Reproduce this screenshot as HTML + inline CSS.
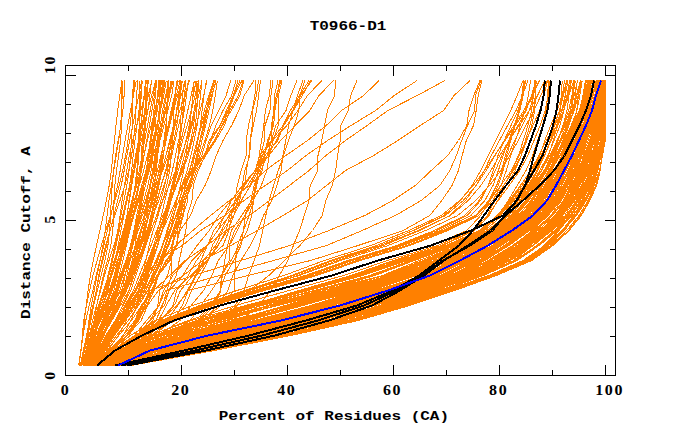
<!DOCTYPE html>
<html><head><meta charset="utf-8"><style>
html,body{margin:0;padding:0;background:#fff;}
body{width:680px;height:440px;overflow:hidden;}
svg{display:block;}
text{font-family:"Liberation Mono",monospace;font-weight:bold;fill:#000;white-space:pre;}
text.d{font-family:"Liberation Serif",serif;letter-spacing:1.6px;}
</style></head><body>
<svg width="680" height="440" viewBox="0 0 680 440">
<g fill="none" stroke-linejoin="round" shape-rendering="crispEdges">
<polyline points="118.9,365.5 152.8,350.5 209.3,335.5 280.1,320.5 337.8,305.5 384.4,290.5 425.3,275.5 454.4,260.5 482.5,245.5 505.9,230.5 524.8,215.5 537.4,200.5 546.4,185.5 555.0,170.5 562.6,155.5 568.3,140.5 573.2,125.5 576.8,110.5 578.4,95.5 580.9,80.5" stroke="#ff8000" stroke-width="1"/>
<polyline points="122.9,365.5 176.5,350.5 243.7,335.5 315.0,320.5 369.6,305.5 415.7,290.5 457.6,275.5 490.0,260.5 515.0,245.5 535.0,230.5 550.8,215.5 561.4,200.5 569.7,185.5 577.4,170.5 585.3,155.5 592.4,140.5 598.0,125.5 600.9,110.5 602.2,95.5 604.1,80.5" stroke="#ff8000" stroke-width="1"/>
<polyline points="118.0,365.5 149.9,350.5 207.2,335.5 278.7,320.5 336.3,305.5 383.4,290.5 425.1,275.5 455.2,260.5 484.1,245.5 508.7,230.5 529.5,215.5 543.3,200.5 552.3,185.5 560.3,170.5 567.9,155.5 574.3,140.5 580.6,125.5 586.0,110.5 589.6,95.5 594.0,80.5" stroke="#ff8000" stroke-width="1"/>
<polyline points="111.8,365.5 139.0,350.5 186.5,335.5 245.4,320.5 299.6,305.5 349.4,290.5 395.9,275.5 431.0,260.5 467.5,245.5 495.4,230.5 514.5,215.5 527.4,200.5 537.4,185.5 546.7,170.5 554.6,155.5 560.6,140.5 566.2,125.5 570.6,110.5 572.9,95.5 575.4,80.5" stroke="#ff8000" stroke-width="1"/>
<polyline points="97.0,365.5 118.9,350.5 154.5,335.5 202.7,320.5 262.0,305.5 324.1,290.5 382.8,275.5 427.1,260.5 469.2,245.5 499.7,230.5 522.8,215.5 540.5,200.5 554.2,185.5 565.1,170.5 574.9,155.5 582.7,140.5 589.3,125.5 593.9,110.5 597.0,95.5 600.2,80.5" stroke="#ff8000" stroke-width="1"/>
<polyline points="98.6,365.5 120.2,350.5 157.5,335.5 208.6,320.5 269.3,305.5 331.6,290.5 390.2,275.5 434.6,260.5 476.6,245.5 507.4,230.5 530.9,215.5 548.0,200.5 559.3,185.5 568.3,170.5 576.3,155.5 582.9,140.5 588.9,125.5 593.3,110.5 596.4,95.5 599.7,80.5" stroke="#ff8000" stroke-width="1"/>
<polyline points="123.4,365.5 176.7,350.5 241.2,335.5 310.8,320.5 365.8,305.5 411.9,290.5 452.7,275.5 483.0,260.5 507.3,245.5 527.8,230.5 545.3,215.5 557.1,200.5 565.0,185.5 571.4,170.5 577.7,155.5 583.3,140.5 589.0,125.5 593.9,110.5 597.3,95.5 601.7,80.5" stroke="#ff8000" stroke-width="1"/>
<polyline points="124.8,365.5 183.8,350.5 250.5,335.5 319.7,320.5 374.6,305.5 421.0,290.5 462.4,275.5 493.7,260.5 517.1,245.5 536.3,230.5 552.4,215.5 563.6,200.5 571.7,185.5 578.1,170.5 584.1,155.5 589.5,140.5 594.7,125.5 598.4,110.5 600.7,95.5 603.3,80.5" stroke="#ff8000" stroke-width="1"/>
<polyline points="121.0,365.5 165.2,350.5 227.6,335.5 299.7,320.5 356.8,305.5 403.7,290.5 444.8,275.5 474.5,260.5 499.8,245.5 521.2,230.5 539.8,215.5 552.5,200.5 561.1,185.5 568.6,170.5 575.9,155.5 582.4,140.5 588.8,125.5 594.0,110.5 597.5,95.5 601.9,80.5" stroke="#ff8000" stroke-width="1"/>
<polyline points="100.8,365.5 123.0,350.5 158.5,335.5 202.4,320.5 253.5,305.5 308.5,290.5 362.7,275.5 405.0,260.5 450.5,245.5 482.0,230.5 499.6,215.5 511.6,200.5 522.3,185.5 532.7,170.5 541.5,155.5 548.9,140.5 556.6,125.5 563.6,110.5 568.7,95.5 574.0,80.5" stroke="#ff8000" stroke-width="1"/>
<polyline points="118.5,365.5 152.7,350.5 210.2,335.5 281.6,320.5 339.7,305.5 387.4,290.5 429.0,275.5 458.2,260.5 484.9,245.5 507.8,230.5 528.0,215.5 542.0,200.5 552.1,185.5 561.8,170.5 571.5,155.5 579.8,140.5 587.2,125.5 592.9,110.5 596.1,95.5 600.2,80.5" stroke="#ff8000" stroke-width="1"/>
<polyline points="125.2,365.5 185.6,350.5 251.9,335.5 319.3,320.5 372.3,305.5 417.6,290.5 458.8,275.5 489.8,260.5 513.6,245.5 532.6,230.5 547.9,215.5 557.7,200.5 564.2,185.5 570.3,170.5 577.1,155.5 583.7,140.5 590.1,125.5 594.9,110.5 597.6,95.5 601.1,80.5" stroke="#ff8000" stroke-width="1"/>
<polyline points="108.9,365.5 136.8,350.5 187.6,335.5 255.5,320.5 319.5,305.5 376.2,290.5 425.9,275.5 461.1,260.5 491.9,245.5 517.6,230.5 539.6,215.5 555.0,200.5 566.5,185.5 576.5,170.5 585.4,155.5 592.9,140.5 599.0,125.5 602.3,110.5 603.7,95.5 604.5,80.5" stroke="#ff8000" stroke-width="1"/>
<polyline points="123.0,365.5 176.9,350.5 243.5,335.5 314.1,320.5 369.9,305.5 417.4,290.5 460.7,275.5 494.5,260.5 520.2,245.5 540.9,230.5 557.4,215.5 568.3,200.5 576.1,185.5 582.1,170.5 587.6,155.5 593.1,140.5 598.1,125.5 601.4,110.5 603.2,95.5 604.5,80.5" stroke="#ff8000" stroke-width="1"/>
<polyline points="123.2,365.5 176.3,350.5 241.4,335.5 311.9,320.5 367.2,305.5 413.2,290.5 454.1,275.5 484.5,260.5 509.0,245.5 529.6,230.5 547.3,215.5 559.2,200.5 567.2,185.5 573.4,170.5 579.1,155.5 584.0,140.5 588.9,125.5 592.8,110.5 595.5,95.5 599.4,80.5" stroke="#ff8000" stroke-width="1"/>
<polyline points="125.5,365.5 189.1,350.5 258.0,335.5 326.5,320.5 380.4,305.5 426.3,290.5 467.8,275.5 500.5,260.5 524.3,245.5 544.5,230.5 561.8,215.5 574.8,200.5 584.7,185.5 591.2,170.5 595.3,155.5 597.9,140.5 599.5,125.5 599.8,110.5 599.9,95.5 600.9,80.5" stroke="#ff8000" stroke-width="1"/>
<polyline points="127.1,365.5 193.5,350.5 260.8,335.5 327.4,320.5 380.0,305.5 424.6,290.5 464.0,275.5 493.0,260.5 514.2,245.5 531.9,230.5 547.3,215.5 558.1,200.5 565.7,185.5 572.1,170.5 578.2,155.5 583.5,140.5 588.5,125.5 592.6,110.5 595.3,95.5 598.5,80.5" stroke="#ff8000" stroke-width="1"/>
<polyline points="107.5,365.5 132.4,350.5 178.0,335.5 238.5,320.5 298.3,305.5 353.7,290.5 404.0,275.5 440.9,260.5 476.9,245.5 504.9,230.5 526.9,215.5 542.1,200.5 552.4,185.5 560.7,170.5 568.6,155.5 575.4,140.5 582.9,125.5 590.4,110.5 596.5,95.5 603.1,80.5" stroke="#ff8000" stroke-width="1"/>
<polyline points="116.1,365.5 146.3,350.5 200.7,335.5 269.3,320.5 327.4,305.5 377.0,290.5 421.4,275.5 453.6,260.5 484.4,245.5 508.8,230.5 527.7,215.5 539.7,200.5 547.9,185.5 555.7,170.5 563.4,155.5 570.0,140.5 576.5,125.5 581.6,110.5 584.7,95.5 588.6,80.5" stroke="#ff8000" stroke-width="1"/>
<polyline points="128.8,365.5 206.3,350.5 281.8,335.5 351.2,320.5 404.7,305.5 451.5,290.5 493.9,275.5 527.7,260.5 547.5,245.5 562.4,230.5 573.6,215.5 582.4,200.5 590.7,185.5 596.5,170.5 600.7,155.5 604.4,140.5 605.5,125.5 605.5,110.5 605.5,95.5 605.5,80.5" stroke="#ff8000" stroke-width="1"/>
<polyline points="111.9,365.5 140.1,350.5 189.9,335.5 253.8,320.5 312.6,305.5 365.0,290.5 412.1,275.5 446.2,260.5 478.2,245.5 503.6,230.5 524.5,215.5 539.5,200.5 550.9,185.5 561.7,170.5 572.1,155.5 580.7,140.5 588.1,125.5 593.7,110.5 597.3,95.5 602.1,80.5" stroke="#ff8000" stroke-width="1"/>
<polyline points="127.4,365.5 197.8,350.5 268.0,335.5 334.7,320.5 386.4,305.5 431.6,290.5 473.0,275.5 505.4,260.5 527.6,245.5 545.1,230.5 559.0,215.5 568.8,200.5 576.5,185.5 582.8,170.5 588.4,155.5 593.2,140.5 596.9,125.5 599.0,110.5 600.0,95.5 602.3,80.5" stroke="#ff8000" stroke-width="1"/>
<polyline points="110.5,365.5 138.8,350.5 187.7,335.5 248.3,320.5 302.9,305.5 352.8,290.5 399.2,275.5 434.1,260.5 469.8,245.5 497.1,230.5 516.2,215.5 528.8,200.5 538.0,185.5 546.8,170.5 555.5,155.5 563.5,140.5 571.8,125.5 579.1,110.5 584.0,95.5 589.2,80.5" stroke="#ff8000" stroke-width="1"/>
<polyline points="122.7,365.5 173.2,350.5 237.5,335.5 308.7,320.5 363.2,305.5 407.3,290.5 445.6,275.5 473.3,260.5 497.4,245.5 518.6,230.5 537.3,215.5 549.6,200.5 556.8,185.5 562.5,170.5 568.6,155.5 574.5,140.5 581.0,125.5 587.4,110.5 592.0,95.5 596.9,80.5" stroke="#ff8000" stroke-width="1"/>
<polyline points="125.0,365.5 186.8,350.5 256.2,335.5 326.6,320.5 381.9,305.5 429.2,290.5 471.9,275.5 505.2,260.5 528.3,245.5 546.5,230.5 560.9,215.5 570.7,200.5 578.4,185.5 584.2,170.5 589.3,155.5 594.4,140.5 599.0,125.5 602.0,110.5 603.9,95.5 605.5,80.5" stroke="#ff8000" stroke-width="1"/>
<polyline points="102.7,365.5 126.6,350.5 169.4,335.5 228.2,320.5 292.2,305.5 353.6,290.5 409.4,275.5 450.5,260.5 486.9,245.5 515.3,230.5 539.4,215.5 555.9,200.5 567.8,185.5 578.1,170.5 587.3,155.5 595.1,140.5 601.4,125.5 604.9,110.5 605.5,95.5 605.5,80.5" stroke="#ff8000" stroke-width="1"/>
<polyline points="130.5,365.5 214.2,350.5 291.0,335.5 358.1,320.5 409.3,305.5 454.6,290.5 496.5,275.5 531.4,260.5 552.2,245.5 568.5,230.5 580.5,215.5 589.2,200.5 596.2,185.5 599.9,170.5 601.9,155.5 604.1,140.5 605.5,125.5 605.5,110.5 605.5,95.5 605.5,80.5" stroke="#ff8000" stroke-width="1"/>
<polyline points="116.9,365.5 147.5,350.5 203.4,335.5 274.0,320.5 332.5,305.5 381.2,290.5 424.3,275.5 455.3,260.5 484.9,245.5 508.8,230.5 527.8,215.5 539.8,200.5 547.6,185.5 555.0,170.5 562.6,155.5 569.8,140.5 577.4,125.5 584.3,110.5 589.2,95.5 594.5,80.5" stroke="#ff8000" stroke-width="1"/>
<polyline points="129.4,365.5 208.8,350.5 283.7,335.5 351.6,320.5 403.9,305.5 449.9,290.5 491.5,275.5 524.5,260.5 544.1,245.5 559.1,230.5 570.9,215.5 580.0,200.5 588.2,185.5 593.7,170.5 597.5,155.5 600.7,140.5 602.7,125.5 602.9,110.5 603.2,95.5 604.1,80.5" stroke="#ff8000" stroke-width="1"/>
<polyline points="113.2,365.5 141.5,350.5 192.8,335.5 258.1,320.5 316.1,305.5 367.2,290.5 413.5,275.5 447.5,260.5 480.8,245.5 507.0,230.5 527.2,215.5 540.9,200.5 550.6,185.5 559.5,170.5 568.0,155.5 575.3,140.5 582.5,125.5 588.4,110.5 592.1,95.5 596.3,80.5" stroke="#ff8000" stroke-width="1"/>
<polyline points="110.0,365.5 136.5,350.5 184.1,335.5 244.9,320.5 302.1,305.5 354.8,290.5 403.3,275.5 438.9,260.5 474.2,245.5 500.5,230.5 518.8,215.5 530.9,200.5 539.9,185.5 548.7,170.5 557.1,155.5 564.8,140.5 572.8,125.5 580.2,110.5 585.8,95.5 592.3,80.5" stroke="#ff8000" stroke-width="1"/>
<polyline points="112.5,365.5 139.1,350.5 186.2,335.5 243.7,320.5 295.9,305.5 344.0,290.5 390.2,275.5 426.0,260.5 464.4,245.5 493.2,230.5 510.9,215.5 522.0,200.5 530.9,185.5 539.9,170.5 547.8,155.5 554.2,140.5 559.9,125.5 563.9,110.5 565.2,95.5 566.2,80.5" stroke="#ff8000" stroke-width="1"/>
<polyline points="122.6,365.5 171.8,350.5 233.5,335.5 302.7,320.5 357.8,305.5 403.2,290.5 442.8,275.5 470.7,260.5 494.6,245.5 515.2,230.5 533.8,215.5 546.5,200.5 554.7,185.5 561.3,170.5 567.4,155.5 572.2,140.5 576.8,125.5 580.8,110.5 583.2,95.5 586.5,80.5" stroke="#ff8000" stroke-width="1"/>
<polyline points="128.2,365.5 203.4,350.5 277.8,335.5 346.9,320.5 400.3,305.5 446.9,290.5 489.6,275.5 524.1,260.5 545.6,245.5 562.2,230.5 575.0,215.5 584.5,200.5 592.6,185.5 597.7,170.5 600.9,155.5 603.8,140.5 605.5,125.5 605.5,110.5 605.5,95.5 605.5,80.5" stroke="#ff8000" stroke-width="1"/>
<polyline points="119.5,365.5 157.3,350.5 217.4,335.5 289.9,320.5 348.8,305.5 397.3,290.5 440.0,275.5 471.1,260.5 498.2,245.5 520.9,230.5 540.3,215.5 553.0,200.5 561.1,185.5 568.0,170.5 574.8,155.5 581.0,140.5 587.2,125.5 592.6,110.5 596.6,95.5 601.5,80.5" stroke="#ff8000" stroke-width="1"/>
<polyline points="123.1,365.5 177.0,350.5 245.0,335.5 317.6,320.5 375.4,305.5 424.5,290.5 468.6,275.5 503.4,260.5 528.9,245.5 549.6,230.5 566.3,215.5 578.0,200.5 586.7,185.5 592.3,170.5 595.8,155.5 598.6,140.5 600.7,125.5 601.4,110.5 602.0,95.5 602.8,80.5" stroke="#ff8000" stroke-width="1"/>
<polyline points="111.7,365.5 139.4,350.5 187.3,335.5 246.0,320.5 298.9,305.5 348.0,290.5 394.5,275.5 429.8,260.5 467.1,245.5 494.7,230.5 511.7,215.5 522.1,200.5 530.0,185.5 537.7,170.5 544.4,155.5 550.3,140.5 556.5,125.5 561.8,110.5 565.1,95.5 568.0,80.5" stroke="#ff8000" stroke-width="1"/>
<polyline points="127.2,365.5 197.1,350.5 269.7,335.5 339.8,320.5 393.9,305.5 440.3,290.5 482.0,275.5 514.9,260.5 536.8,245.5 554.4,230.5 568.5,215.5 578.7,200.5 586.6,185.5 591.4,170.5 594.4,155.5 596.9,140.5 599.1,125.5 600.2,110.5 601.4,95.5 603.2,80.5" stroke="#ff8000" stroke-width="1"/>
<polyline points="126.6,365.5 194.7,350.5 266.8,335.5 336.9,320.5 391.6,305.5 438.9,290.5 481.9,275.5 516.2,260.5 538.8,245.5 556.6,230.5 570.4,215.5 580.1,200.5 588.0,185.5 593.0,170.5 596.7,155.5 600.3,140.5 603.2,125.5 604.6,110.5 605.5,95.5 605.5,80.5" stroke="#ff8000" stroke-width="1"/>
<polyline points="110.2,365.5 136.9,350.5 183.3,335.5 240.9,320.5 295.1,305.5 345.6,290.5 393.0,275.5 428.7,260.5 465.9,245.5 494.1,230.5 513.1,215.5 526.0,200.5 535.9,185.5 545.1,170.5 553.1,155.5 559.8,140.5 566.6,125.5 572.5,110.5 576.4,95.5 580.4,80.5" stroke="#ff8000" stroke-width="1"/>
<polyline points="127.2,365.5 196.1,350.5 266.2,335.5 334.0,320.5 387.8,305.5 434.5,290.5 476.7,275.5 509.9,260.5 532.4,245.5 550.3,230.5 564.5,215.5 574.4,200.5 581.8,185.5 587.1,170.5 591.4,155.5 595.5,140.5 599.4,125.5 601.9,110.5 603.5,95.5 605.2,80.5" stroke="#ff8000" stroke-width="1"/>
<polyline points="119.6,365.5 158.1,350.5 217.3,335.5 288.7,320.5 345.8,305.5 392.7,290.5 433.7,275.5 462.7,260.5 489.2,245.5 511.7,230.5 531.1,215.5 543.3,200.5 551.0,185.5 558.0,170.5 565.3,155.5 571.8,140.5 578.3,125.5 583.8,110.5 587.0,95.5 590.7,80.5" stroke="#ff8000" stroke-width="1"/>
<polyline points="125.1,365.5 184.6,350.5 250.9,335.5 319.1,320.5 374.0,305.5 420.8,290.5 462.8,275.5 495.1,260.5 519.4,245.5 539.8,230.5 557.0,215.5 569.0,200.5 577.4,185.5 583.2,170.5 587.8,155.5 591.6,140.5 595.1,125.5 597.6,110.5 599.1,95.5 601.4,80.5" stroke="#ff8000" stroke-width="1"/>
<polyline points="112.7,365.5 142.0,350.5 191.1,335.5 249.5,320.5 299.8,305.5 345.7,290.5 389.5,275.5 423.2,260.5 460.3,245.5 489.3,230.5 508.6,215.5 521.7,200.5 532.2,185.5 541.6,170.5 548.6,155.5 553.3,140.5 557.4,125.5 560.3,110.5 561.2,95.5 562.3,80.5" stroke="#ff8000" stroke-width="1"/>
<polyline points="126.1,365.5 190.1,350.5 258.5,335.5 326.7,320.5 380.7,305.5 426.9,290.5 468.5,275.5 500.6,260.5 523.7,245.5 542.6,230.5 558.2,215.5 569.1,200.5 576.9,185.5 582.6,170.5 587.6,155.5 592.1,140.5 596.4,125.5 599.6,110.5 601.6,95.5 604.3,80.5" stroke="#ff8000" stroke-width="1"/>
<polyline points="109.9,365.5 136.6,350.5 184.2,335.5 244.7,320.5 301.2,305.5 353.1,290.5 400.9,275.5 436.4,260.5 472.2,245.5 499.8,230.5 520.0,215.5 534.2,200.5 544.9,185.5 554.4,170.5 562.7,155.5 569.2,140.5 575.5,125.5 580.9,110.5 584.8,95.5 589.8,80.5" stroke="#ff8000" stroke-width="1"/>
<polyline points="126.5,365.5 192.8,350.5 262.0,335.5 329.7,320.5 382.9,305.5 428.8,290.5 470.5,275.5 503.3,260.5 526.7,245.5 545.9,230.5 561.8,215.5 573.1,200.5 581.5,185.5 587.3,170.5 591.8,155.5 595.6,140.5 598.9,125.5 600.8,110.5 601.8,95.5 603.4,80.5" stroke="#ff8000" stroke-width="1"/>
<polyline points="97.1,365.5 115.8,350.5 143.3,335.5 175.7,320.5 221.5,305.5 276.5,290.5 333.6,275.5 379.4,260.5 432.3,245.5 466.8,230.5 480.7,215.5 489.9,200.5 500.6,185.5 511.3,170.5 518.5,155.5 523.3,140.5 527.9,125.5 531.6,110.5 533.5,95.5 534.6,80.5" stroke="#ff8000" stroke-width="1"/>
<polyline points="119.6,365.5 159.9,350.5 223.1,335.5 297.3,320.5 355.7,305.5 403.8,290.5 446.4,275.5 478.2,260.5 505.1,245.5 527.3,230.5 545.6,215.5 557.5,200.5 565.4,185.5 571.9,170.5 578.3,155.5 584.7,140.5 591.5,125.5 597.3,110.5 601.7,95.5 605.5,80.5" stroke="#ff8000" stroke-width="1"/>
<polyline points="124.6,365.5 182.9,350.5 249.9,335.5 319.5,320.5 373.4,305.5 418.5,290.5 458.9,275.5 489.9,260.5 514.3,245.5 535.0,230.5 552.2,215.5 563.5,200.5 570.7,185.5 576.0,170.5 581.1,155.5 586.3,140.5 592.0,125.5 596.8,110.5 599.8,95.5 603.0,80.5" stroke="#ff8000" stroke-width="1"/>
<polyline points="100.9,365.5 122.2,350.5 157.3,335.5 200.6,320.5 250.9,305.5 304.8,290.5 358.5,275.5 400.9,260.5 447.8,245.5 480.7,230.5 498.7,215.5 510.6,200.5 520.9,185.5 530.7,170.5 538.9,155.5 546.4,140.5 554.6,125.5 562.2,110.5 567.4,95.5 571.8,80.5" stroke="#ff8000" stroke-width="1"/>
<polyline points="121.3,365.5 165.4,350.5 227.3,335.5 299.5,320.5 356.6,305.5 403.2,290.5 443.5,275.5 472.2,260.5 497.0,245.5 518.3,230.5 536.8,215.5 549.0,200.5 556.6,185.5 563.2,170.5 570.2,155.5 577.0,140.5 584.5,125.5 591.1,110.5 595.8,95.5 600.8,80.5" stroke="#ff8000" stroke-width="1"/>
<polyline points="126.5,365.5 193.8,350.5 265.3,335.5 335.8,320.5 391.3,305.5 439.1,290.5 482.1,275.5 515.7,260.5 537.8,245.5 554.9,230.5 568.0,215.5 577.1,200.5 584.4,185.5 589.4,170.5 593.3,155.5 597.1,140.5 600.2,125.5 601.6,110.5 602.2,95.5 602.6,80.5" stroke="#ff8000" stroke-width="1"/>
<polyline points="122.3,365.5 170.2,350.5 231.5,335.5 300.3,320.5 356.9,305.5 404.4,290.5 446.1,275.5 476.1,260.5 501.0,245.5 522.2,230.5 541.1,215.5 554.4,200.5 563.3,185.5 570.4,170.5 576.5,155.5 581.2,140.5 586.1,125.5 591.0,110.5 594.7,95.5 598.9,80.5" stroke="#ff8000" stroke-width="1"/>
<polyline points="114.0,365.5 142.8,350.5 193.6,335.5 256.9,320.5 312.3,305.5 361.3,290.5 406.4,275.5 440.1,260.5 474.3,245.5 501.1,230.5 520.3,215.5 532.9,200.5 541.8,185.5 549.9,170.5 557.0,155.5 562.8,140.5 568.6,125.5 573.6,110.5 576.7,95.5 580.3,80.5" stroke="#ff8000" stroke-width="1"/>
<polyline points="126.1,365.5 191.6,350.5 261.2,335.5 330.2,320.5 384.0,305.5 429.9,290.5 470.9,275.5 502.4,260.5 524.7,245.5 543.5,230.5 559.9,215.5 572.2,200.5 581.6,185.5 587.8,170.5 592.2,155.5 595.6,140.5 598.7,125.5 600.8,110.5 602.3,95.5 603.9,80.5" stroke="#ff8000" stroke-width="1"/>
<polyline points="100.8,365.5 120.0,350.5 150.9,335.5 188.1,320.5 235.5,305.5 289.0,290.5 343.7,275.5 387.6,260.5 437.6,245.5 471.6,230.5 487.7,215.5 498.3,200.5 509.1,185.5 519.8,170.5 527.8,155.5 534.0,140.5 540.1,125.5 545.2,110.5 548.2,95.5 550.1,80.5" stroke="#ff8000" stroke-width="1"/>
<polyline points="118.1,365.5 150.7,350.5 209.4,335.5 283.1,320.5 342.3,305.5 390.4,290.5 432.0,275.5 461.4,260.5 488.4,245.5 511.5,230.5 531.9,215.5 546.0,200.5 555.8,185.5 564.8,170.5 573.8,155.5 581.4,140.5 588.5,125.5 594.1,110.5 597.5,95.5 601.8,80.5" stroke="#ff8000" stroke-width="1"/>
<polyline points="116.9,365.5 148.5,350.5 205.8,335.5 278.2,320.5 337.8,305.5 386.8,290.5 429.7,275.5 460.3,260.5 488.9,245.5 513.4,230.5 534.7,215.5 548.9,200.5 558.3,185.5 566.3,170.5 574.2,155.5 581.0,140.5 587.6,125.5 593.1,110.5 596.7,95.5 601.2,80.5" stroke="#ff8000" stroke-width="1"/>
<polyline points="121.5,365.5 168.1,350.5 231.5,335.5 303.0,320.5 359.9,305.5 407.3,290.5 449.4,275.5 480.8,260.5 506.7,245.5 528.3,230.5 546.6,215.5 558.9,200.5 567.4,185.5 574.3,170.5 580.7,155.5 586.4,140.5 591.8,125.5 596.0,110.5 598.7,95.5 602.2,80.5" stroke="#ff8000" stroke-width="1"/>
<polyline points="103.0,365.5 127.2,350.5 167.9,335.5 220.4,320.5 276.5,305.5 332.0,290.5 384.1,275.5 422.9,260.5 462.1,245.5 491.0,230.5 511.8,215.5 527.6,200.5 540.8,185.5 553.1,170.5 564.5,155.5 574.2,140.5 583.4,125.5 591.6,110.5 597.3,95.5 603.1,80.5" stroke="#ff8000" stroke-width="1"/>
<polyline points="118.2,365.5 151.1,350.5 209.2,335.5 281.3,320.5 338.2,305.5 384.4,290.5 425.2,275.5 454.5,260.5 482.9,245.5 507.0,230.5 527.0,215.5 540.2,200.5 549.0,185.5 556.9,170.5 564.5,155.5 571.0,140.5 577.4,125.5 582.9,110.5 586.5,95.5 590.8,80.5" stroke="#ff8000" stroke-width="1"/>
<polyline points="120.7,365.5 164.3,350.5 227.5,335.5 300.6,320.5 358.2,305.5 405.2,290.5 446.1,275.5 476.0,260.5 501.3,245.5 523.2,230.5 542.7,215.5 556.8,200.5 566.9,185.5 574.9,170.5 581.6,155.5 586.9,140.5 591.8,125.5 595.8,110.5 598.9,95.5 603.3,80.5" stroke="#ff8000" stroke-width="1"/>
<polyline points="99.8,365.5 122.5,350.5 161.9,335.5 215.7,320.5 277.5,305.5 339.4,290.5 397.0,275.5 440.1,260.5 479.8,245.5 509.2,230.5 532.9,215.5 549.1,200.5 559.9,185.5 569.1,170.5 577.8,155.5 585.6,140.5 593.0,125.5 598.5,110.5 602.5,95.5 605.5,80.5" stroke="#ff8000" stroke-width="1"/>
<polyline points="118.4,365.5 154.1,350.5 215.4,335.5 290.3,320.5 349.4,305.5 397.6,290.5 439.8,275.5 470.6,260.5 497.7,245.5 520.5,230.5 539.9,215.5 552.7,200.5 561.2,185.5 568.4,170.5 575.2,155.5 581.2,140.5 587.2,125.5 592.0,110.5 595.3,95.5 599.4,80.5" stroke="#ff8000" stroke-width="1"/>
<polyline points="130.0,365.5 212.0,350.5 288.1,335.5 355.5,320.5 407.4,305.5 453.2,290.5 495.4,275.5 530.2,260.5 550.8,245.5 566.8,230.5 579.0,215.5 588.0,200.5 595.6,185.5 600.0,170.5 602.4,155.5 604.7,140.5 605.5,125.5 605.5,110.5 605.5,95.5 605.5,80.5" stroke="#ff8000" stroke-width="1"/>
<polyline points="119.0,365.5 155.5,350.5 215.5,335.5 288.2,320.5 346.7,305.5 394.6,290.5 436.8,275.5 467.7,260.5 495.1,245.5 518.4,230.5 538.6,215.5 552.3,200.5 561.6,185.5 569.3,170.5 576.8,155.5 583.3,140.5 589.8,125.5 595.1,110.5 598.7,95.5 602.9,80.5" stroke="#ff8000" stroke-width="1"/>
<polyline points="112.7,365.5 141.1,350.5 191.2,335.5 254.5,320.5 311.6,305.5 362.8,290.5 409.8,275.5 444.8,260.5 478.9,245.5 505.6,230.5 525.6,215.5 538.6,200.5 547.5,185.5 555.6,170.5 563.5,155.5 570.8,140.5 578.4,125.5 585.2,110.5 590.0,95.5 595.4,80.5" stroke="#ff8000" stroke-width="1"/>
<polyline points="117.0,365.5 146.8,350.5 200.0,335.5 265.7,320.5 321.1,305.5 368.5,290.5 411.9,275.5 444.3,260.5 477.2,245.5 503.8,230.5 523.4,215.5 535.9,200.5 544.5,185.5 551.9,170.5 558.2,155.5 562.8,140.5 567.2,125.5 570.6,110.5 572.0,95.5 573.8,80.5" stroke="#ff8000" stroke-width="1"/>
<polyline points="106.7,365.5 132.2,350.5 176.6,335.5 233.8,320.5 291.5,305.5 346.3,290.5 397.4,275.5 435.7,260.5 473.2,245.5 501.8,230.5 523.6,215.5 539.2,200.5 550.7,185.5 561.1,170.5 571.0,155.5 579.9,140.5 587.6,125.5 593.6,110.5 597.2,95.5 601.3,80.5" stroke="#ff8000" stroke-width="1"/>
<polyline points="126.3,365.5 192.8,350.5 263.3,335.5 332.3,320.5 386.7,305.5 433.9,290.5 476.8,275.5 510.6,260.5 533.5,245.5 551.6,230.5 566.0,215.5 576.4,200.5 584.7,185.5 590.6,170.5 595.1,155.5 598.8,140.5 601.6,125.5 602.6,110.5 603.0,95.5 603.9,80.5" stroke="#ff8000" stroke-width="1"/>
<polyline points="115.4,365.5 144.5,350.5 196.5,335.5 260.5,320.5 314.4,305.5 361.3,290.5 404.2,275.5 435.5,260.5 468.3,245.5 492.9,230.5 508.4,215.5 518.3,200.5 526.5,185.5 535.0,170.5 542.5,155.5 548.6,140.5 554.6,125.5 559.6,110.5 562.4,95.5 564.5,80.5" stroke="#ff8000" stroke-width="1"/>
<polyline points="121.4,365.5 165.5,350.5 225.1,335.5 294.0,320.5 349.0,305.5 394.2,290.5 433.8,275.5 461.5,260.5 487.0,245.5 509.2,230.5 527.5,215.5 538.5,200.5 545.3,185.5 551.7,170.5 558.1,155.5 563.4,140.5 568.9,125.5 573.2,110.5 575.3,95.5 577.3,80.5" stroke="#ff8000" stroke-width="1"/>
<polyline points="118.8,365.5 153.5,350.5 212.8,335.5 286.0,320.5 346.5,305.5 396.6,290.5 440.9,275.5 473.3,260.5 501.4,245.5 524.6,230.5 543.9,215.5 556.4,200.5 564.3,185.5 570.8,170.5 577.2,155.5 582.9,140.5 588.6,125.5 593.3,110.5 596.3,95.5 599.9,80.5" stroke="#ff8000" stroke-width="1"/>
<polyline points="104.5,365.5 125.9,350.5 160.7,335.5 202.4,320.5 250.0,305.5 301.5,290.5 353.6,275.5 395.1,260.5 442.5,245.5 474.7,230.5 489.0,215.5 497.6,200.5 506.4,185.5 515.1,170.5 521.2,155.5 525.4,140.5 529.8,125.5 533.5,110.5 535.3,95.5 536.2,80.5" stroke="#ff8000" stroke-width="1"/>
<polyline points="126.3,365.5 193.1,350.5 264.2,335.5 334.2,320.5 387.5,305.5 432.7,290.5 473.1,275.5 504.3,260.5 525.9,245.5 543.4,230.5 557.8,215.5 567.9,200.5 575.7,185.5 581.6,170.5 587.0,155.5 592.4,140.5 597.6,125.5 601.4,110.5 604.1,95.5 605.5,80.5" stroke="#ff8000" stroke-width="1"/>
<polyline points="117.1,365.5 147.4,350.5 202.4,335.5 271.8,320.5 330.3,305.5 379.7,290.5 424.1,275.5 456.6,260.5 487.4,245.5 512.5,230.5 532.3,215.5 544.6,200.5 552.2,185.5 559.1,170.5 566.1,155.5 572.4,140.5 579.1,125.5 584.8,110.5 588.2,95.5 592.0,80.5" stroke="#ff8000" stroke-width="1"/>
<polyline points="119.9,365.5 158.3,350.5 217.1,335.5 287.7,320.5 344.6,305.5 391.0,290.5 431.7,275.5 461.1,260.5 488.6,245.5 512.8,230.5 534.6,215.5 549.1,200.5 558.1,185.5 565.4,170.5 571.7,155.5 576.2,140.5 580.5,125.5 584.0,110.5 586.1,95.5 589.6,80.5" stroke="#ff8000" stroke-width="1"/>
<polyline points="111.5,365.5 138.5,350.5 186.0,335.5 244.8,320.5 298.1,305.5 347.0,290.5 392.8,275.5 427.2,260.5 464.1,245.5 491.7,230.5 509.0,215.5 520.1,200.5 528.8,185.5 536.7,170.5 543.1,155.5 548.4,140.5 554.2,125.5 559.6,110.5 563.4,95.5 566.8,80.5" stroke="#ff8000" stroke-width="1"/>
<polyline points="125.3,365.5 188.7,350.5 259.9,335.5 331.1,320.5 387.0,305.5 435.2,290.5 479.0,275.5 514.1,260.5 538.0,245.5 556.8,230.5 571.4,215.5 581.7,200.5 589.8,185.5 594.7,170.5 597.8,155.5 600.7,140.5 603.1,125.5 603.9,110.5 604.9,95.5 605.5,80.5" stroke="#ff8000" stroke-width="1"/>
<polyline points="108.3,365.5 134.5,350.5 179.9,335.5 238.4,320.5 296.2,305.5 350.7,290.5 401.1,275.5 438.3,260.5 474.4,245.5 501.4,230.5 521.5,215.5 535.7,200.5 546.8,185.5 557.5,170.5 567.8,155.5 576.6,140.5 584.8,125.5 591.3,110.5 595.6,95.5 600.0,80.5" stroke="#ff8000" stroke-width="1"/>
<polyline points="130.6,365.5 214.2,350.5 290.5,335.5 357.6,320.5 408.8,305.5 453.8,290.5 494.9,275.5 528.2,260.5 547.9,245.5 563.3,230.5 575.3,215.5 584.2,200.5 591.5,185.5 595.7,170.5 598.1,155.5 600.3,140.5 601.9,125.5 602.3,110.5 602.7,95.5 603.6,80.5" stroke="#ff8000" stroke-width="1"/>
<polyline points="123.2,365.5 176.3,350.5 240.1,335.5 308.7,320.5 363.1,305.5 408.8,290.5 449.7,275.5 479.9,260.5 504.4,245.5 524.8,230.5 542.1,215.5 553.8,200.5 561.8,185.5 569.0,170.5 576.5,155.5 583.8,140.5 591.2,125.5 597.5,110.5 601.6,95.5 605.5,80.5" stroke="#ff8000" stroke-width="1"/>
<polyline points="103.9,365.5 126.1,350.5 161.7,335.5 202.7,320.5 248.5,305.5 299.0,290.5 351.0,275.5 393.1,260.5 441.3,245.5 473.6,230.5 487.2,215.5 495.0,200.5 503.8,185.5 513.5,170.5 521.1,155.5 526.8,140.5 531.7,125.5 534.7,110.5 535.4,95.5 535.4,80.5" stroke="#ff8000" stroke-width="1"/>
<polyline points="119.4,365.5 157.8,350.5 219.3,335.5 292.8,320.5 351.2,305.5 399.1,290.5 441.3,275.5 472.4,260.5 499.6,245.5 522.6,230.5 542.3,215.5 555.6,200.5 564.3,185.5 571.4,170.5 578.0,155.5 583.8,140.5 589.7,125.5 594.7,110.5 598.4,95.5 602.7,80.5" stroke="#ff8000" stroke-width="1"/>
<polyline points="115.3,365.5 145.5,350.5 198.8,335.5 265.0,320.5 321.4,305.5 370.1,290.5 414.4,275.5 447.3,260.5 479.7,245.5 505.8,230.5 525.9,215.5 538.9,200.5 547.4,185.5 555.1,170.5 562.4,155.5 569.0,140.5 576.1,125.5 582.6,110.5 587.1,95.5 592.2,80.5" stroke="#ff8000" stroke-width="1"/>
<polyline points="117.4,365.5 148.3,350.5 203.6,335.5 271.0,320.5 325.4,305.5 371.0,290.5 412.6,275.5 444.0,260.5 475.9,245.5 501.9,230.5 521.1,215.5 532.9,200.5 540.8,185.5 548.5,170.5 556.4,155.5 563.8,140.5 571.2,125.5 577.0,110.5 579.8,95.5 582.2,80.5" stroke="#ff8000" stroke-width="1"/>
<polyline points="106.6,365.5 132.6,350.5 177.6,335.5 234.3,320.5 289.5,305.5 342.2,290.5 391.8,275.5 429.4,260.5 468.0,245.5 497.3,230.5 518.0,215.5 532.2,200.5 542.4,185.5 551.3,170.5 559.6,155.5 567.2,140.5 575.7,125.5 584.0,110.5 590.7,95.5 598.2,80.5" stroke="#ff8000" stroke-width="1"/>
<polyline points="113.3,365.5 143.2,350.5 197.2,335.5 266.6,320.5 327.2,305.5 379.1,290.5 424.9,275.5 457.8,260.5 487.6,245.5 512.8,230.5 534.5,215.5 549.3,200.5 559.5,185.5 568.5,170.5 577.0,155.5 584.3,140.5 591.0,125.5 596.1,110.5 599.3,95.5 602.8,80.5" stroke="#ff8000" stroke-width="1"/>
<polyline points="104.2,365.5 130.5,350.5 175.9,335.5 236.2,320.5 298.1,305.5 356.4,290.5 409.4,275.5 448.2,260.5 483.1,245.5 511.0,230.5 534.9,215.5 551.6,200.5 563.7,185.5 574.1,170.5 583.3,155.5 591.1,140.5 597.7,125.5 602.0,110.5 604.6,95.5 605.5,80.5" stroke="#ff8000" stroke-width="1"/>
<polyline points="120.4,365.5 159.4,350.5 217.0,335.5 286.4,320.5 342.9,305.5 388.9,290.5 428.3,275.5 455.5,260.5 482.3,245.5 505.2,230.5 523.4,215.5 534.9,200.5 542.7,185.5 550.2,170.5 557.2,155.5 562.8,140.5 568.0,125.5 571.9,110.5 573.4,95.5 574.7,80.5" stroke="#ff8000" stroke-width="1"/>
<polyline points="127.4,365.5 198.5,350.5 270.9,335.5 340.1,320.5 394.0,305.5 440.7,290.5 482.9,275.5 516.3,260.5 538.0,245.5 555.0,230.5 568.3,215.5 577.9,200.5 585.7,185.5 591.1,170.5 595.1,155.5 599.0,140.5 602.1,125.5 603.6,110.5 604.4,95.5 605.1,80.5" stroke="#ff8000" stroke-width="1"/>
<polyline points="122.9,365.5 175.0,350.5 240.6,335.5 312.0,320.5 369.2,305.5 417.0,290.5 459.2,275.5 490.9,260.5 515.1,245.5 535.1,230.5 552.1,215.5 564.4,200.5 573.8,185.5 581.3,170.5 587.7,155.5 593.0,140.5 597.3,125.5 599.7,110.5 600.8,95.5 602.5,80.5" stroke="#ff8000" stroke-width="1"/>
<polyline points="115.0,365.5 144.9,350.5 197.0,335.5 260.6,320.5 314.1,305.5 360.8,290.5 404.0,275.5 436.4,260.5 470.2,245.5 497.1,230.5 515.9,215.5 528.3,200.5 537.5,185.5 545.9,170.5 552.9,155.5 558.1,140.5 563.0,125.5 567.0,110.5 569.0,95.5 571.2,80.5" stroke="#ff8000" stroke-width="1"/>
<polyline points="124.8,365.5 186.2,350.5 256.4,335.5 327.3,320.5 382.8,305.5 430.4,290.5 473.6,275.5 508.2,260.5 532.4,245.5 552.0,230.5 567.6,215.5 579.0,200.5 588.0,185.5 593.9,170.5 597.8,155.5 601.1,140.5 603.5,125.5 604.1,110.5 604.5,95.5 605.0,80.5" stroke="#ff8000" stroke-width="1"/>
<polyline points="127.9,365.5 199.2,350.5 269.6,335.5 336.2,320.5 387.7,305.5 431.8,290.5 471.6,275.5 502.6,260.5 524.5,245.5 542.9,230.5 558.5,215.5 569.7,200.5 577.6,185.5 583.2,170.5 587.8,155.5 592.3,140.5 596.8,125.5 600.3,110.5 602.7,95.5 605.3,80.5" stroke="#ff8000" stroke-width="1"/>
<polyline points="121.2,365.5 163.9,350.5 223.9,335.5 294.2,320.5 351.7,305.5 399.3,290.5 441.1,275.5 471.0,260.5 497.0,245.5 518.6,230.5 537.1,215.5 548.7,200.5 555.5,185.5 561.3,170.5 567.4,155.5 573.1,140.5 579.3,125.5 585.0,110.5 589.0,95.5 593.8,80.5" stroke="#ff8000" stroke-width="1"/>
<polyline points="122.3,365.5 170.7,350.5 233.5,335.5 303.7,320.5 360.9,305.5 408.7,290.5 450.6,275.5 481.1,260.5 505.6,245.5 526.2,230.5 544.5,215.5 557.7,200.5 567.4,185.5 575.1,170.5 581.6,155.5 586.7,140.5 591.3,125.5 595.2,110.5 598.5,95.5 603.2,80.5" stroke="#ff8000" stroke-width="1"/>
<polyline points="125.1,365.5 186.3,350.5 253.7,335.5 321.3,320.5 374.4,305.5 420.2,290.5 462.4,275.5 495.6,260.5 520.5,245.5 540.5,230.5 556.4,215.5 566.9,200.5 574.3,185.5 580.3,170.5 586.4,155.5 592.4,140.5 598.0,125.5 601.5,110.5 603.0,95.5 604.4,80.5" stroke="#ff8000" stroke-width="1"/>
<polyline points="115.3,365.5 145.6,350.5 202.1,335.5 275.8,320.5 339.0,305.5 390.0,290.5 434.9,275.5 468.2,260.5 498.1,245.5 523.3,230.5 544.7,215.5 559.3,200.5 569.3,185.5 577.5,170.5 584.8,155.5 590.8,140.5 596.1,125.5 599.7,110.5 601.7,95.5 603.8,80.5" stroke="#ff8000" stroke-width="1"/>
<polyline points="118.6,365.5 153.1,350.5 212.3,335.5 285.4,320.5 344.4,305.5 392.7,290.5 435.2,275.5 465.8,260.5 493.5,245.5 516.9,230.5 537.1,215.5 550.4,200.5 558.9,185.5 566.4,170.5 573.8,155.5 580.2,140.5 586.4,125.5 591.4,110.5 594.8,95.5 599.3,80.5" stroke="#ff8000" stroke-width="1"/>
<polyline points="101.8,365.5 122.9,350.5 157.2,335.5 199.1,320.5 248.6,305.5 302.0,290.5 355.7,275.5 398.6,260.5 445.9,245.5 479.2,230.5 497.3,215.5 509.4,200.5 520.4,185.5 531.1,170.5 540.5,155.5 548.8,140.5 557.0,125.5 563.8,110.5 567.8,95.5 571.0,80.5" stroke="#ff8000" stroke-width="1"/>
<polyline points="112.3,365.5 141.7,350.5 192.5,335.5 255.3,320.5 310.5,305.5 359.7,290.5 404.9,275.5 438.3,260.5 471.9,245.5 498.3,230.5 517.9,215.5 531.4,200.5 541.5,185.5 551.1,170.5 560.3,155.5 568.4,140.5 576.6,125.5 583.6,110.5 588.4,95.5 593.4,80.5" stroke="#ff8000" stroke-width="1"/>
<polyline points="130.4,365.5 211.4,350.5 284.6,335.5 349.9,320.5 399.9,305.5 443.6,290.5 483.2,275.5 513.7,260.5 532.7,245.5 547.3,230.5 559.0,215.5 567.2,200.5 573.8,185.5 579.5,170.5 585.3,155.5 591.0,140.5 596.2,125.5 599.7,110.5 601.5,95.5 603.8,80.5" stroke="#ff8000" stroke-width="1"/>
<polyline points="118.4,365.5 151.7,350.5 209.8,335.5 282.3,320.5 340.8,305.5 388.5,290.5 430.1,275.5 459.7,260.5 487.4,245.5 511.0,230.5 531.3,215.5 544.7,200.5 553.4,185.5 561.4,170.5 569.4,155.5 576.4,140.5 583.3,125.5 589.0,110.5 592.7,95.5 597.1,80.5" stroke="#ff8000" stroke-width="1"/>
<polyline points="123.5,365.5 177.6,350.5 242.9,335.5 312.3,320.5 367.6,305.5 414.4,290.5 456.4,275.5 488.7,260.5 513.8,245.5 534.9,230.5 552.5,215.5 564.8,200.5 573.6,185.5 580.3,170.5 586.3,155.5 591.7,140.5 596.7,125.5 600.4,110.5 602.6,95.5 605.2,80.5" stroke="#ff8000" stroke-width="1"/>
<polyline points="101.2,365.5 121.1,350.5 154.1,335.5 196.6,320.5 249.3,305.5 305.9,290.5 361.2,275.5 403.8,260.5 449.9,245.5 482.2,230.5 500.3,215.5 513.0,200.5 524.0,185.5 533.4,170.5 539.9,155.5 544.8,140.5 550.7,125.5 557.0,110.5 562.2,95.5 567.4,80.5" stroke="#ff8000" stroke-width="1"/>
<polyline points="103.2,365.5 126.6,350.5 167.0,335.5 220.1,320.5 277.9,305.5 335.4,290.5 389.5,275.5 430.0,260.5 469.9,245.5 499.2,230.5 520.2,215.5 535.3,200.5 547.0,185.5 557.4,170.5 566.9,155.5 575.3,140.5 583.8,125.5 590.0,110.5 594.5,95.5 599.9,80.5" stroke="#ff8000" stroke-width="1"/>
<polyline points="128.5,365.5 202.0,350.5 272.6,335.5 338.7,320.5 390.4,305.5 435.4,290.5 476.2,275.5 508.1,260.5 529.8,245.5 547.3,230.5 561.7,215.5 571.5,200.5 578.5,185.5 583.2,170.5 587.1,155.5 590.7,140.5 594.2,125.5 596.8,110.5 598.7,95.5 601.5,80.5" stroke="#ff8000" stroke-width="1"/>
<polyline points="119.8,365.5 160.1,350.5 221.8,335.5 294.4,320.5 352.7,305.5 400.8,290.5 443.4,275.5 474.9,260.5 501.6,245.5 523.8,230.5 542.6,215.5 555.2,200.5 563.9,185.5 571.1,170.5 577.9,155.5 584.1,140.5 590.0,125.5 594.6,110.5 597.7,95.5 601.2,80.5" stroke="#ff8000" stroke-width="1"/>
<polyline points="123.9,365.5 178.2,350.5 242.1,335.5 311.3,320.5 365.9,305.5 411.3,290.5 450.8,275.5 478.8,260.5 501.6,245.5 520.7,230.5 537.3,215.5 548.1,200.5 554.9,185.5 561.0,170.5 567.0,155.5 572.0,140.5 577.3,125.5 581.7,110.5 584.6,95.5 588.2,80.5" stroke="#ff8000" stroke-width="1"/>
<polyline points="118.8,365.5 152.7,350.5 210.2,335.5 281.4,320.5 337.8,305.5 383.5,290.5 424.6,275.5 455.1,260.5 485.3,245.5 510.7,230.5 530.5,215.5 542.6,200.5 549.9,185.5 556.4,170.5 562.7,155.5 568.4,140.5 574.6,125.5 579.9,110.5 582.9,95.5 585.5,80.5" stroke="#ff8000" stroke-width="1"/>
<polyline points="130.1,365.5 213.1,350.5 290.2,335.5 358.3,320.5 409.7,305.5 454.9,290.5 496.3,275.5 530.0,260.5 549.5,245.5 564.4,230.5 575.6,215.5 584.1,200.5 591.7,185.5 596.8,170.5 600.6,155.5 604.7,140.5 605.5,125.5 605.5,110.5 605.5,95.5 605.5,80.5" stroke="#ff8000" stroke-width="1"/>
<polyline points="130.9,365.5 214.7,350.5 290.5,335.5 356.9,320.5 407.3,305.5 451.7,290.5 492.8,275.5 526.4,260.5 547.1,245.5 563.2,230.5 575.2,215.5 583.3,200.5 589.5,185.5 593.2,170.5 596.0,155.5 599.0,140.5 601.3,125.5 601.8,110.5 601.8,95.5 601.9,80.5" stroke="#ff8000" stroke-width="1"/>
<polyline points="123.0,365.5 173.7,350.5 235.4,335.5 303.3,320.5 357.4,305.5 402.5,290.5 442.4,275.5 471.1,260.5 495.9,245.5 516.9,230.5 535.3,215.5 547.3,200.5 554.3,185.5 560.5,170.5 566.9,155.5 572.5,140.5 578.3,125.5 583.0,110.5 585.3,95.5 587.6,80.5" stroke="#ff8000" stroke-width="1"/>
<polyline points="105.4,365.5 128.7,350.5 168.5,335.5 218.3,320.5 271.1,305.5 323.9,290.5 374.9,275.5 414.3,260.5 456.2,245.5 487.0,230.5 506.8,215.5 521.0,200.5 532.9,185.5 544.0,170.5 553.4,155.5 561.0,140.5 568.3,125.5 574.2,110.5 578.2,95.5 582.4,80.5" stroke="#ff8000" stroke-width="1"/>
<polyline points="110.2,365.5 138.0,350.5 186.2,335.5 247.0,320.5 303.3,305.5 355.1,290.5 403.2,275.5 439.4,260.5 475.2,245.5 503.2,230.5 524.1,215.5 538.2,200.5 547.9,185.5 556.5,170.5 564.7,155.5 572.0,140.5 579.8,125.5 587.1,110.5 592.6,95.5 599.1,80.5" stroke="#ff8000" stroke-width="1"/>
<polyline points="124.8,365.5 186.7,350.5 256.4,335.5 326.6,320.5 381.6,305.5 429.0,290.5 471.9,275.5 505.5,260.5 528.6,245.5 546.7,230.5 561.2,215.5 572.1,200.5 581.6,185.5 589.2,170.5 595.6,155.5 601.1,140.5 604.9,125.5 605.5,110.5 605.5,95.5 605.5,80.5" stroke="#ff8000" stroke-width="1"/>
<polyline points="124.0,365.5 180.8,350.5 247.8,335.5 317.3,320.5 372.7,305.5 420.3,290.5 463.6,275.5 497.7,260.5 522.9,245.5 543.2,230.5 559.5,215.5 571.0,200.5 579.8,185.5 586.7,170.5 592.5,155.5 597.4,140.5 601.0,125.5 602.7,110.5 603.4,95.5 604.8,80.5" stroke="#ff8000" stroke-width="1"/>
<polyline points="119.3,365.5 158.0,350.5 219.0,335.5 291.8,320.5 348.6,305.5 394.9,290.5 435.6,275.5 465.2,260.5 492.0,245.5 515.1,230.5 535.4,215.5 549.0,200.5 557.8,185.5 565.1,170.5 572.0,155.5 578.0,140.5 584.3,125.5 590.0,110.5 594.5,95.5 600.3,80.5" stroke="#ff8000" stroke-width="1"/>
<polyline points="123.2,365.5 177.2,350.5 243.3,335.5 314.3,320.5 370.9,305.5 418.7,290.5 461.3,275.5 493.7,260.5 518.0,245.5 537.9,230.5 554.6,215.5 566.4,200.5 575.4,185.5 582.2,170.5 587.7,155.5 592.3,140.5 596.2,125.5 598.7,110.5 600.4,95.5 602.9,80.5" stroke="#ff8000" stroke-width="1"/>
<polyline points="102.3,365.5 124.4,350.5 163.0,335.5 213.9,320.5 271.1,305.5 328.5,290.5 382.9,275.5 424.2,260.5 465.7,245.5 496.6,230.5 519.1,215.5 535.8,200.5 548.8,185.5 560.3,170.5 570.8,155.5 579.7,140.5 588.2,125.5 594.2,110.5 597.9,95.5 602.4,80.5" stroke="#ff8000" stroke-width="1"/>
<polyline points="100.3,365.5 121.8,350.5 157.3,335.5 202.8,320.5 256.9,305.5 314.1,290.5 369.6,275.5 412.4,260.5 456.8,245.5 488.1,230.5 507.5,215.5 521.5,200.5 533.4,185.5 544.8,170.5 555.2,155.5 564.4,140.5 573.7,125.5 581.7,110.5 587.5,95.5 593.8,80.5" stroke="#ff8000" stroke-width="1"/>
<polyline points="113.3,365.5 141.9,350.5 192.6,335.5 256.0,320.5 312.3,305.5 362.3,290.5 408.5,275.5 443.0,260.5 477.3,245.5 504.2,230.5 524.1,215.5 537.0,200.5 546.1,185.5 554.6,170.5 562.7,155.5 569.9,140.5 577.1,125.5 583.0,110.5 586.5,95.5 590.1,80.5" stroke="#ff8000" stroke-width="1"/>
<polyline points="129.0,365.5 206.3,350.5 281.0,335.5 349.1,320.5 401.4,305.5 447.0,290.5 488.8,275.5 523.0,260.5 544.6,245.5 561.8,230.5 575.2,215.5 584.8,200.5 592.4,185.5 596.6,170.5 599.0,155.5 601.4,140.5 603.2,125.5 603.9,110.5 604.6,95.5 605.2,80.5" stroke="#ff8000" stroke-width="1"/>
<polyline points="123.5,365.5 177.8,350.5 244.4,335.5 315.6,320.5 373.4,305.5 422.7,290.5 466.7,275.5 500.6,260.5 525.2,245.5 545.1,230.5 561.5,215.5 573.7,200.5 583.5,185.5 591.0,170.5 596.7,155.5 601.2,140.5 604.3,125.5 605.3,110.5 605.5,95.5 605.5,80.5" stroke="#ff8000" stroke-width="1"/>
<polyline points="125.3,365.5 188.0,350.5 256.8,335.5 325.8,320.5 379.6,305.5 425.5,290.5 466.9,275.5 499.1,260.5 522.4,245.5 541.6,230.5 557.6,215.5 568.9,200.5 577.6,185.5 584.0,170.5 589.5,155.5 594.5,140.5 598.8,125.5 601.6,110.5 603.3,95.5 605.1,80.5" stroke="#ff8000" stroke-width="1"/>
<polyline points="105.7,365.5 131.0,350.5 176.6,335.5 238.0,320.5 300.8,305.5 359.4,290.5 412.7,275.5 452.1,260.5 487.8,245.5 516.0,230.5 539.9,215.5 555.5,200.5 565.7,185.5 573.7,170.5 580.5,155.5 586.2,140.5 591.6,125.5 595.6,110.5 598.7,95.5 602.1,80.5" stroke="#ff8000" stroke-width="1"/>
<polyline points="108.3,365.5 133.0,350.5 174.7,335.5 225.0,320.5 274.8,305.5 324.5,290.5 373.2,275.5 411.0,260.5 453.2,245.5 483.1,230.5 498.6,215.5 508.3,200.5 517.2,185.5 526.0,170.5 532.7,155.5 537.5,140.5 542.4,125.5 546.1,110.5 547.7,95.5 548.4,80.5" stroke="#ff8000" stroke-width="1"/>
<polyline points="106.0,365.5 132.3,350.5 178.5,335.5 238.8,320.5 298.4,305.5 354.3,290.5 405.9,275.5 444.6,260.5 481.2,245.5 509.8,230.5 533.6,215.5 549.4,200.5 559.6,185.5 568.4,170.5 577.0,155.5 585.0,140.5 592.5,125.5 598.0,110.5 601.0,95.5 603.4,80.5" stroke="#ff8000" stroke-width="1"/>
<polyline points="123.6,365.5 179.4,350.5 245.6,335.5 315.3,320.5 371.5,305.5 419.8,290.5 463.2,275.5 496.5,260.5 521.0,245.5 540.9,230.5 557.6,215.5 569.9,200.5 579.2,185.5 585.8,170.5 590.4,155.5 593.6,140.5 596.2,125.5 597.8,110.5 599.5,95.5 602.2,80.5" stroke="#ff8000" stroke-width="1"/>
<polyline points="129.6,365.5 208.8,350.5 283.8,335.5 351.7,320.5 404.2,305.5 449.8,290.5 491.1,275.5 524.7,260.5 545.5,245.5 562.3,230.5 575.7,215.5 585.7,200.5 593.5,185.5 597.6,170.5 599.8,155.5 602.0,140.5 604.2,125.5 605.3,110.5 605.5,95.5 605.5,80.5" stroke="#ff8000" stroke-width="1"/>
<polyline points="102.6,365.5 125.4,350.5 162.4,335.5 208.6,320.5 260.9,305.5 315.7,290.5 369.4,275.5 411.3,260.5 455.7,245.5 487.5,230.5 506.8,215.5 520.1,200.5 531.1,185.5 541.3,170.5 550.0,155.5 557.4,140.5 565.0,125.5 571.8,110.5 576.7,95.5 582.1,80.5" stroke="#ff8000" stroke-width="1"/>
<polyline points="124.4,365.5 181.7,350.5 246.7,335.5 315.4,320.5 370.1,305.5 416.0,290.5 456.2,275.5 485.2,260.5 507.7,245.5 526.9,230.5 544.1,215.5 556.5,200.5 565.0,185.5 571.4,170.5 577.0,155.5 581.9,140.5 587.3,125.5 592.8,110.5 597.3,95.5 602.9,80.5" stroke="#ff8000" stroke-width="1"/>
<polyline points="105.4,365.5 129.2,350.5 168.7,335.5 216.9,320.5 267.8,305.5 319.7,290.5 370.7,275.5 410.4,260.5 453.7,245.5 484.7,230.5 502.4,215.5 514.2,200.5 524.4,185.5 533.9,170.5 541.6,155.5 547.7,140.5 554.0,125.5 559.5,110.5 563.2,95.5 566.9,80.5" stroke="#ff8000" stroke-width="1"/>
<polyline points="100.0,365.5 122.5,350.5 161.3,335.5 212.9,320.5 271.2,305.5 329.8,290.5 384.5,275.5 425.8,260.5 466.8,245.5 497.9,230.5 522.1,215.5 540.5,200.5 554.2,185.5 565.7,170.5 575.0,155.5 582.7,140.5 590.0,125.5 596.1,110.5 600.3,95.5 604.2,80.5" stroke="#ff8000" stroke-width="1"/>
<polyline points="129.9,365.5 210.4,350.5 286.0,335.5 353.9,320.5 406.7,305.5 453.5,290.5 496.5,275.5 531.7,260.5 552.9,245.5 569.2,230.5 581.3,215.5 589.8,200.5 596.7,185.5 600.2,170.5 601.9,155.5 603.4,140.5 604.4,125.5 604.4,110.5 604.4,95.5 604.4,80.5" stroke="#ff8000" stroke-width="1"/>
<polyline points="127.0,365.5 195.6,350.5 266.0,335.5 333.8,320.5 386.8,305.5 432.7,290.5 474.6,275.5 507.6,260.5 530.3,245.5 548.5,230.5 562.9,215.5 572.7,200.5 579.9,185.5 584.9,170.5 589.2,155.5 593.5,140.5 597.6,125.5 600.4,110.5 602.2,95.5 604.2,80.5" stroke="#ff8000" stroke-width="1"/>
<polyline points="115.5,365.5 145.6,350.5 199.2,335.5 266.2,320.5 323.2,305.5 372.1,290.5 416.4,275.5 448.9,260.5 480.3,245.5 505.6,230.5 525.3,215.5 538.3,200.5 547.6,185.5 556.3,170.5 564.8,155.5 572.1,140.5 579.0,125.5 584.5,110.5 587.7,95.5 591.7,80.5" stroke="#ff8000" stroke-width="1"/>
<polyline points="111.2,365.5 140.4,350.5 192.9,335.5 260.8,320.5 321.9,305.5 375.3,290.5 422.9,275.5 457.6,260.5 489.3,245.5 516.1,230.5 538.7,215.5 553.8,200.5 563.7,185.5 571.8,170.5 579.3,155.5 586.1,140.5 592.7,125.5 597.7,110.5 600.9,95.5 603.9,80.5" stroke="#ff8000" stroke-width="1"/>
<polyline points="108.2,365.5 133.0,350.5 177.1,335.5 233.0,320.5 287.7,305.5 339.4,290.5 387.9,275.5 424.7,260.5 464.0,245.5 493.9,230.5 513.7,215.5 526.8,200.5 536.4,185.5 544.4,170.5 551.1,155.5 557.0,140.5 563.8,125.5 570.2,110.5 574.2,95.5 577.5,80.5" stroke="#ff8000" stroke-width="1"/>
<polyline points="117.5,365.5 150.2,350.5 209.4,335.5 283.3,320.5 342.9,305.5 391.9,290.5 435.1,275.5 466.8,260.5 495.1,245.5 518.8,230.5 539.0,215.5 552.5,200.5 561.6,185.5 569.4,170.5 576.9,155.5 583.6,140.5 590.0,125.5 594.9,110.5 598.0,95.5 601.6,80.5" stroke="#ff8000" stroke-width="1"/>
<polyline points="121.3,365.5 167.3,350.5 230.6,335.5 302.2,320.5 359.5,305.5 407.3,290.5 449.9,275.5 481.9,260.5 508.0,245.5 529.8,230.5 548.2,215.5 560.6,200.5 569.3,185.5 576.2,170.5 582.5,155.5 588.2,140.5 593.5,125.5 597.5,110.5 600.0,95.5 603.1,80.5" stroke="#ff8000" stroke-width="1"/>
<polyline points="115.7,365.5 145.9,350.5 199.8,335.5 267.0,320.5 323.6,305.5 372.0,290.5 415.6,275.5 447.5,260.5 479.1,245.5 504.6,230.5 524.3,215.5 537.2,200.5 546.2,185.5 554.5,170.5 562.2,155.5 568.7,140.5 575.2,125.5 580.7,110.5 584.2,95.5 588.2,80.5" stroke="#ff8000" stroke-width="1"/>
<polyline points="126.7,365.5 196.2,350.5 269.4,335.5 339.4,320.5 393.1,305.5 439.4,290.5 481.6,275.5 516.0,260.5 539.0,245.5 557.7,230.5 572.7,215.5 583.8,200.5 592.7,185.5 597.9,170.5 600.7,155.5 602.9,140.5 604.4,125.5 604.6,110.5 605.1,95.5 605.5,80.5" stroke="#ff8000" stroke-width="1"/>
<polyline points="123.5,365.5 177.2,350.5 242.3,335.5 312.2,320.5 368.2,305.5 415.0,290.5 456.6,275.5 487.9,260.5 512.5,245.5 533.4,230.5 551.4,215.5 563.9,200.5 572.6,185.5 579.0,170.5 584.5,155.5 589.5,140.5 594.6,125.5 598.8,110.5 601.7,95.5 604.9,80.5" stroke="#ff8000" stroke-width="1"/>
<polyline points="109.1,365.5 134.9,350.5 179.2,335.5 233.5,320.5 285.3,305.5 335.0,290.5 382.5,275.5 419.2,260.5 459.0,245.5 488.5,230.5 506.7,215.5 518.5,200.5 528.0,185.5 536.9,170.5 544.6,155.5 551.1,140.5 557.9,125.5 563.6,110.5 567.0,95.5 569.6,80.5" stroke="#ff8000" stroke-width="1"/>
<polyline points="107.1,365.5 132.9,350.5 177.0,335.5 232.6,320.5 287.9,305.5 341.2,290.5 391.2,275.5 428.9,260.5 467.0,245.5 495.4,230.5 515.0,215.5 528.6,200.5 539.3,185.5 549.3,170.5 558.3,155.5 566.1,140.5 573.9,125.5 581.0,110.5 586.4,95.5 592.6,80.5" stroke="#ff8000" stroke-width="1"/>
<polyline points="124.0,365.5 181.5,350.5 248.9,335.5 319.3,320.5 374.4,305.5 421.4,290.5 463.8,275.5 496.6,260.5 521.1,245.5 541.0,230.5 556.8,215.5 567.2,200.5 574.3,185.5 579.6,170.5 584.5,155.5 589.5,140.5 594.5,125.5 598.2,110.5 600.8,95.5 603.4,80.5" stroke="#ff8000" stroke-width="1"/>
<polyline points="117.8,365.5 149.1,350.5 205.6,335.5 276.7,320.5 336.1,305.5 385.6,290.5 430.1,275.5 463.1,260.5 493.5,245.5 519.0,230.5 540.4,215.5 553.9,200.5 561.7,185.5 568.1,170.5 574.3,155.5 579.8,140.5 585.7,125.5 590.9,110.5 594.5,95.5 599.0,80.5" stroke="#ff8000" stroke-width="1"/>
<polyline points="115.3,365.5 145.3,350.5 199.7,335.5 268.7,320.5 327.4,305.5 377.2,290.5 421.2,275.5 452.7,260.5 482.6,245.5 507.1,230.5 527.2,215.5 541.1,200.5 550.9,185.5 560.0,170.5 568.8,155.5 576.2,140.5 583.3,125.5 589.1,110.5 593.0,95.5 597.9,80.5" stroke="#ff8000" stroke-width="1"/>
<polyline points="123.1,365.5 177.4,350.5 244.8,335.5 316.5,320.5 373.4,305.5 421.8,290.5 465.5,275.5 499.6,260.5 525.1,245.5 545.7,230.5 562.3,215.5 573.9,200.5 582.4,185.5 588.3,170.5 592.7,155.5 596.6,140.5 599.8,125.5 601.4,110.5 602.5,95.5 603.6,80.5" stroke="#ff8000" stroke-width="1"/>
<polyline points="125.6,365.5 188.5,350.5 256.8,335.5 325.6,320.5 380.1,305.5 426.6,290.5 468.1,275.5 499.6,260.5 522.1,245.5 540.4,230.5 555.8,215.5 566.8,200.5 575.3,185.5 581.7,170.5 586.9,155.5 591.3,140.5 595.0,125.5 597.7,110.5 599.7,95.5 602.7,80.5" stroke="#ff8000" stroke-width="1"/>
<polyline points="111.2,365.5 138.0,350.5 184.9,335.5 243.3,320.5 297.6,305.5 347.9,290.5 394.9,275.5 430.1,260.5 466.7,245.5 494.3,230.5 512.7,215.5 525.3,200.5 535.3,185.5 544.5,170.5 552.2,155.5 558.0,140.5 563.7,125.5 568.6,110.5 571.8,95.5 575.4,80.5" stroke="#ff8000" stroke-width="1"/>
<polyline points="123.7,365.5 179.7,350.5 246.2,335.5 316.1,320.5 370.5,305.5 416.1,290.5 456.9,275.5 488.2,260.5 512.8,245.5 533.9,230.5 552.3,215.5 565.6,200.5 575.4,185.5 582.7,170.5 588.6,155.5 593.3,140.5 597.3,125.5 599.9,110.5 601.4,95.5 603.4,80.5" stroke="#ff8000" stroke-width="1"/>
<polyline points="117.8,365.5 149.9,350.5 208.6,335.5 282.3,320.5 342.1,305.5 391.1,290.5 434.1,275.5 465.2,260.5 493.3,245.5 516.9,230.5 537.2,215.5 550.8,200.5 559.9,185.5 567.9,170.5 575.7,155.5 582.4,140.5 588.9,125.5 594.0,110.5 597.3,95.5 601.4,80.5" stroke="#ff8000" stroke-width="1"/>
<polyline points="127.4,365.5 199.0,350.5 272.4,335.5 342.4,320.5 397.2,305.5 445.1,290.5 488.7,275.5 523.9,260.5 546.2,245.5 563.4,230.5 576.6,215.5 586.2,200.5 594.3,185.5 599.4,170.5 602.6,155.5 605.2,140.5 605.5,125.5 605.5,110.5 605.5,95.5 605.5,80.5" stroke="#ff8000" stroke-width="1"/>
<polyline points="97.1,365.5 117.2,350.5 149.5,335.5 191.6,320.5 245.5,305.5 304.5,290.5 362.4,275.5 407.5,260.5 454.6,245.5 487.5,230.5 507.7,215.5 522.3,200.5 534.6,185.5 546.0,170.5 556.2,155.5 565.3,140.5 574.7,125.5 583.1,110.5 589.4,95.5 596.7,80.5" stroke="#ff8000" stroke-width="1"/>
<polyline points="127.2,365.5 198.5,350.5 271.9,335.5 341.5,320.5 395.1,305.5 441.4,290.5 483.4,275.5 517.2,260.5 538.9,245.5 556.2,230.5 569.9,215.5 580.3,200.5 589.2,185.5 595.1,170.5 599.1,155.5 602.6,140.5 605.1,125.5 605.5,110.5 605.5,95.5 605.5,80.5" stroke="#ff8000" stroke-width="1"/>
<polyline points="113.9,365.5 143.3,350.5 195.8,335.5 262.1,320.5 319.4,305.5 369.3,290.5 414.4,275.5 447.3,260.5 479.7,245.5 505.3,230.5 524.7,215.5 537.5,200.5 546.4,185.5 554.3,170.5 561.6,155.5 567.7,140.5 573.9,125.5 579.4,110.5 583.3,95.5 588.0,80.5" stroke="#ff8000" stroke-width="1"/>
<polyline points="80.4,365.5 83.4,350.5 86.5,335.5 89.6,320.5 92.9,305.5 96.3,290.5 99.3,275.5 102.8,260.5 106.5,245.5 110.2,230.5 114.0,215.5 117.6,200.5 121.2,185.5 124.2,170.5 126.9,155.5 129.7,140.5 132.8,125.5 135.8,110.5 138.8,95.5 141.8,80.5" stroke="#ff8000" stroke-width="1"/>
<polyline points="85.7,365.5 91.6,350.5 97.4,335.5 103.4,320.5 108.8,305.5 114.0,290.5 117.5,275.5 121.2,260.5 124.6,245.5 128.0,230.5 131.4,215.5 134.8,200.5 138.2,185.5 141.5,170.5 144.1,155.5 146.7,140.5 149.5,125.5 152.0,110.5 154.5,95.5 157.0,80.5" stroke="#ff8000" stroke-width="1"/>
<polyline points="86.1,365.5 91.4,350.5 97.1,335.5 103.6,320.5 110.1,305.5 116.5,290.5 121.0,275.5 125.9,260.5 130.7,245.5 135.6,230.5 140.8,215.5 145.6,200.5 149.9,185.5 153.5,170.5 155.9,155.5 158.0,140.5 160.3,125.5 162.6,110.5 165.6,95.5 169.1,80.5" stroke="#ff8000" stroke-width="1"/>
<polyline points="86.9,365.5 92.7,350.5 99.3,335.5 107.5,320.5 115.6,305.5 123.2,290.5 128.1,275.5 132.2,260.5 135.1,245.5 137.3,230.5 139.6,215.5 142.0,200.5 145.3,185.5 149.3,170.5 153.2,155.5 157.5,140.5 161.8,125.5 165.4,110.5 168.5,95.5 171.1,80.5" stroke="#ff8000" stroke-width="1"/>
<polyline points="95.1,365.5 104.0,350.5 113.1,335.5 123.1,320.5 132.8,305.5 142.2,290.5 147.7,275.5 153.0,260.5 157.7,245.5 161.8,230.5 166.0,215.5 169.5,200.5 172.9,185.5 176.1,170.5 178.1,155.5 180.0,140.5 181.8,125.5 183.2,110.5 184.5,95.5 185.8,80.5" stroke="#ff8000" stroke-width="1"/>
<polyline points="91.7,365.5 99.6,350.5 107.9,335.5 117.3,320.5 126.8,305.5 136.4,290.5 142.7,275.5 149.0,260.5 154.7,245.5 160.1,230.5 165.6,215.5 170.6,200.5 175.6,185.5 180.5,170.5 184.4,155.5 188.2,140.5 192.0,125.5 195.3,110.5 198.6,95.5 202.0,80.5" stroke="#ff8000" stroke-width="1"/>
<polyline points="92.7,365.5 101.3,350.5 109.3,335.5 117.5,320.5 126.2,305.5 135.3,290.5 141.4,275.5 148.3,260.5 155.2,245.5 162.2,230.5 169.3,215.5 175.8,200.5 181.8,185.5 187.2,170.5 191.0,155.5 194.2,140.5 197.1,125.5 198.9,110.5 200.5,95.5 202.0,80.5" stroke="#ff8000" stroke-width="1"/>
<polyline points="86.9,365.5 90.9,350.5 95.1,335.5 99.7,320.5 105.6,305.5 111.4,290.5 115.6,275.5 120.1,260.5 124.4,245.5 128.6,230.5 132.7,215.5 136.1,200.5 139.1,185.5 141.4,170.5 142.8,155.5 144.2,140.5 145.5,125.5 146.5,110.5 147.2,95.5 147.6,80.5" stroke="#ff8000" stroke-width="1"/>
<polyline points="85.0,365.5 90.1,350.5 94.4,335.5 98.6,320.5 103.1,305.5 107.9,290.5 111.5,275.5 115.1,260.5 118.1,245.5 120.9,230.5 123.8,215.5 127.0,200.5 130.6,185.5 133.9,170.5 136.4,155.5 138.3,140.5 139.5,125.5 140.3,110.5 141.2,95.5 142.3,80.5" stroke="#ff8000" stroke-width="1"/>
<polyline points="84.4,365.5 87.4,350.5 90.5,335.5 94.2,320.5 99.4,305.5 104.4,290.5 108.0,275.5 111.6,260.5 114.7,245.5 117.8,230.5 120.9,215.5 123.9,200.5 126.8,185.5 129.1,170.5 130.5,155.5 131.5,140.5 132.2,125.5 132.5,110.5 132.9,95.5 133.2,80.5" stroke="#ff8000" stroke-width="1"/>
<polyline points="81.0,365.5 84.5,350.5 87.6,335.5 90.3,320.5 93.6,305.5 97.5,290.5 101.2,275.5 105.0,260.5 107.9,245.5 109.6,230.5 110.6,215.5 111.2,200.5 112.2,185.5 113.6,170.5 115.6,155.5 118.2,140.5 120.9,125.5 122.9,110.5 124.1,95.5 124.8,80.5" stroke="#ff8000" stroke-width="1"/>
<polyline points="93.9,365.5 103.3,350.5 113.5,335.5 124.6,320.5 134.3,305.5 143.7,290.5 149.5,275.5 155.8,260.5 162.4,245.5 169.4,230.5 176.8,215.5 183.4,200.5 189.2,185.5 194.3,170.5 197.4,155.5 200.4,140.5 203.9,125.5 207.4,110.5 211.6,95.5 216.3,80.5" stroke="#ff8000" stroke-width="1"/>
<polyline points="85.6,365.5 92.3,350.5 98.2,335.5 103.2,320.5 107.2,305.5 111.4,290.5 114.3,275.5 117.8,260.5 121.5,245.5 125.6,230.5 130.1,215.5 134.6,200.5 139.3,185.5 143.7,170.5 147.4,155.5 151.0,140.5 154.3,125.5 157.2,110.5 159.6,95.5 161.5,80.5" stroke="#ff8000" stroke-width="1"/>
<polyline points="84.3,365.5 88.3,350.5 91.6,335.5 94.3,320.5 98.5,305.5 103.7,290.5 108.6,275.5 114.2,260.5 119.3,245.5 123.6,230.5 126.9,215.5 129.4,200.5 131.8,185.5 134.3,170.5 137.0,155.5 140.1,140.5 143.0,125.5 144.9,110.5 145.6,95.5 145.6,80.5" stroke="#ff8000" stroke-width="1"/>
<polyline points="88.8,365.5 96.1,350.5 103.3,335.5 111.0,320.5 117.6,305.5 123.7,290.5 127.0,275.5 129.9,260.5 132.0,245.5 134.0,230.5 136.7,215.5 139.9,200.5 144.0,185.5 148.4,170.5 152.1,155.5 155.2,140.5 157.7,125.5 159.1,110.5 160.1,95.5 160.9,80.5" stroke="#ff8000" stroke-width="1"/>
<polyline points="82.5,365.5 85.9,350.5 89.3,335.5 92.6,320.5 96.5,305.5 100.6,290.5 104.4,275.5 109.0,260.5 113.8,245.5 118.5,230.5 122.9,215.5 126.5,200.5 129.5,185.5 131.6,170.5 133.2,155.5 135.0,140.5 137.0,125.5 139.0,110.5 140.6,95.5 141.9,80.5" stroke="#ff8000" stroke-width="1"/>
<polyline points="88.5,365.5 95.0,350.5 99.8,335.5 104.4,320.5 111.9,305.5 121.3,290.5 129.2,275.5 137.2,260.5 143.7,245.5 148.8,230.5 153.1,215.5 156.9,200.5 161.1,185.5 165.6,170.5 168.9,155.5 171.6,140.5 173.2,125.5 174.0,110.5 175.1,95.5 177.5,80.5" stroke="#ff8000" stroke-width="1"/>
<polyline points="93.7,365.5 103.4,350.5 112.8,335.5 122.3,320.5 131.2,305.5 140.6,290.5 146.8,275.5 152.8,260.5 157.8,245.5 162.0,230.5 166.4,215.5 170.9,200.5 176.5,185.5 182.9,170.5 188.1,155.5 192.4,140.5 195.4,125.5 196.8,110.5 197.7,95.5 198.9,80.5" stroke="#ff8000" stroke-width="1"/>
<polyline points="91.1,365.5 98.5,350.5 107.0,335.5 117.6,320.5 128.3,305.5 138.5,290.5 145.0,275.5 150.8,260.5 155.6,245.5 159.8,230.5 164.3,215.5 168.6,200.5 173.4,185.5 178.3,170.5 182.3,155.5 186.0,140.5 189.2,125.5 191.3,110.5 192.9,95.5 194.2,80.5" stroke="#ff8000" stroke-width="1"/>
<polyline points="87.9,365.5 93.2,350.5 98.7,335.5 105.4,320.5 112.7,305.5 119.8,290.5 124.6,275.5 129.1,260.5 132.8,245.5 136.0,230.5 138.9,215.5 141.4,200.5 143.9,185.5 146.3,170.5 148.1,155.5 150.1,140.5 152.1,125.5 153.9,110.5 155.4,95.5 156.7,80.5" stroke="#ff8000" stroke-width="1"/>
<polyline points="87.6,365.5 93.2,350.5 99.9,335.5 107.9,320.5 115.8,305.5 123.3,290.5 128.3,275.5 133.3,260.5 137.6,245.5 141.4,230.5 144.9,215.5 147.8,200.5 150.6,185.5 153.3,170.5 155.6,155.5 158.4,140.5 161.8,125.5 165.1,110.5 168.6,95.5 172.1,80.5" stroke="#ff8000" stroke-width="1"/>
<polyline points="80.3,365.5 84.1,350.5 88.9,335.5 94.8,320.5 99.7,305.5 104.5,290.5 108.4,275.5 112.4,260.5 116.0,245.5 119.3,230.5 122.7,215.5 126.1,200.5 129.5,185.5 132.8,170.5 135.6,155.5 138.6,140.5 141.8,125.5 145.0,110.5 148.3,95.5 151.9,80.5" stroke="#ff8000" stroke-width="1"/>
<polyline points="93.4,365.5 101.4,350.5 110.0,335.5 120.4,320.5 130.2,305.5 138.6,290.5 142.5,275.5 145.9,260.5 149.1,245.5 153.1,230.5 158.0,215.5 162.7,200.5 166.8,185.5 169.8,170.5 171.1,155.5 172.4,140.5 174.3,125.5 176.5,110.5 178.9,95.5 180.7,80.5" stroke="#ff8000" stroke-width="1"/>
<polyline points="90.2,365.5 97.3,350.5 104.0,335.5 111.1,320.5 118.2,305.5 125.4,290.5 130.1,275.5 134.6,260.5 138.3,245.5 141.5,230.5 144.4,215.5 147.0,200.5 149.8,185.5 152.6,170.5 154.8,155.5 157.0,140.5 158.9,125.5 160.3,110.5 161.4,95.5 162.5,80.5" stroke="#ff8000" stroke-width="1"/>
<polyline points="89.5,365.5 96.6,350.5 103.7,335.5 110.8,320.5 118.3,305.5 126.5,290.5 132.9,275.5 139.5,260.5 145.2,245.5 149.8,230.5 153.6,215.5 157.2,200.5 161.3,185.5 166.1,170.5 170.3,155.5 174.0,140.5 176.8,125.5 178.5,110.5 180.1,95.5 182.4,80.5" stroke="#ff8000" stroke-width="1"/>
<polyline points="81.9,365.5 86.1,350.5 90.8,335.5 96.1,320.5 100.9,305.5 105.5,290.5 109.0,275.5 112.5,260.5 115.4,245.5 117.9,230.5 120.1,215.5 122.1,200.5 124.4,185.5 126.8,170.5 129.3,155.5 132.7,140.5 136.6,125.5 140.8,110.5 144.9,95.5 148.8,80.5" stroke="#ff8000" stroke-width="1"/>
<polyline points="89.5,365.5 96.5,350.5 103.4,335.5 110.5,320.5 116.6,305.5 122.1,290.5 125.0,275.5 128.1,260.5 131.5,245.5 135.2,230.5 139.5,215.5 143.8,200.5 147.9,185.5 151.2,170.5 153.1,155.5 154.5,140.5 155.5,125.5 156.4,110.5 157.5,95.5 158.9,80.5" stroke="#ff8000" stroke-width="1"/>
<polyline points="88.6,365.5 95.6,350.5 103.1,335.5 111.2,320.5 118.6,305.5 125.6,290.5 130.2,275.5 135.4,260.5 140.9,245.5 146.8,230.5 153.0,215.5 158.8,200.5 164.0,185.5 168.6,170.5 171.8,155.5 175.1,140.5 178.6,125.5 182.0,110.5 185.4,95.5 188.5,80.5" stroke="#ff8000" stroke-width="1"/>
<polyline points="86.8,365.5 93.0,350.5 98.3,335.5 103.3,320.5 108.8,305.5 115.1,290.5 120.2,275.5 125.8,260.5 130.9,245.5 135.2,230.5 138.7,215.5 141.4,200.5 143.9,185.5 146.5,170.5 149.2,155.5 152.7,140.5 156.7,125.5 160.5,110.5 163.8,95.5 166.3,80.5" stroke="#ff8000" stroke-width="1"/>
<polyline points="90.7,365.5 97.3,350.5 103.7,335.5 110.7,320.5 118.2,305.5 126.0,290.5 131.2,275.5 136.6,260.5 141.2,245.5 145.3,230.5 148.9,215.5 152.2,200.5 155.6,185.5 159.0,170.5 161.6,155.5 164.0,140.5 165.9,125.5 167.0,110.5 167.9,95.5 168.8,80.5" stroke="#ff8000" stroke-width="1"/>
<polyline points="84.5,365.5 89.2,350.5 94.3,335.5 100.2,320.5 106.3,305.5 112.3,290.5 116.7,275.5 121.1,260.5 125.4,245.5 129.6,230.5 134.0,215.5 138.4,200.5 143.0,185.5 147.3,170.5 150.8,155.5 154.2,140.5 157.4,125.5 160.1,110.5 162.6,95.5 165.1,80.5" stroke="#ff8000" stroke-width="1"/>
<polyline points="91.2,365.5 97.0,350.5 103.2,335.5 110.4,320.5 118.7,305.5 126.6,290.5 131.4,275.5 136.2,260.5 140.5,245.5 144.7,230.5 149.0,215.5 153.1,200.5 157.2,185.5 160.8,170.5 163.3,155.5 165.3,140.5 166.7,125.5 167.1,110.5 167.1,95.5 167.1,80.5" stroke="#ff8000" stroke-width="1"/>
<polyline points="84.8,365.5 88.1,350.5 91.6,335.5 95.5,320.5 100.9,305.5 106.6,290.5 111.6,275.5 117.4,260.5 122.7,245.5 127.2,230.5 130.7,215.5 133.1,200.5 135.1,185.5 136.8,170.5 137.9,155.5 138.8,140.5 139.1,125.5 139.1,110.5 139.1,95.5 139.1,80.5" stroke="#ff8000" stroke-width="1"/>
<polyline points="89.1,365.5 95.5,350.5 101.7,335.5 109.0,320.5 117.5,305.5 126.3,290.5 132.5,275.5 138.4,260.5 143.3,245.5 147.3,230.5 151.0,215.5 154.3,200.5 158.0,185.5 162.1,170.5 165.8,155.5 169.7,140.5 173.6,125.5 176.7,110.5 179.2,95.5 181.4,80.5" stroke="#ff8000" stroke-width="1"/>
<polyline points="95.8,365.5 106.9,350.5 118.7,335.5 131.4,320.5 141.8,305.5 151.8,290.5 157.5,275.5 163.1,260.5 168.3,245.5 173.4,230.5 178.7,215.5 183.7,200.5 188.6,185.5 193.3,170.5 196.7,155.5 199.9,140.5 203.2,125.5 206.2,110.5 209.6,95.5 213.6,80.5" stroke="#ff8000" stroke-width="1"/>
<polyline points="90.0,365.5 98.2,350.5 106.4,335.5 115.1,320.5 123.0,305.5 130.8,290.5 135.7,275.5 140.8,260.5 145.7,245.5 150.8,230.5 156.6,215.5 162.7,200.5 169.2,185.5 175.8,170.5 181.3,155.5 186.5,140.5 191.0,125.5 194.2,110.5 196.6,95.5 198.5,80.5" stroke="#ff8000" stroke-width="1"/>
<polyline points="93.5,365.5 102.3,350.5 111.6,335.5 122.7,320.5 134.1,305.5 145.7,290.5 153.6,275.5 161.1,260.5 167.4,245.5 172.8,230.5 177.7,215.5 181.7,200.5 185.7,185.5 189.8,170.5 193.3,155.5 197.2,140.5 201.7,125.5 206.0,110.5 210.4,95.5 214.8,80.5" stroke="#ff8000" stroke-width="1"/>
<polyline points="87.4,365.5 93.5,350.5 99.9,335.5 106.5,320.5 112.5,305.5 118.3,290.5 122.2,275.5 126.4,260.5 130.4,245.5 134.2,230.5 137.9,215.5 141.0,200.5 143.9,185.5 146.4,170.5 148.3,155.5 150.4,140.5 152.9,125.5 155.2,110.5 157.6,95.5 159.7,80.5" stroke="#ff8000" stroke-width="1"/>
<polyline points="85.5,365.5 91.4,350.5 97.3,335.5 103.5,320.5 108.8,305.5 113.9,290.5 117.2,275.5 120.4,260.5 123.3,245.5 126.2,230.5 129.3,215.5 132.5,200.5 136.0,185.5 139.3,170.5 142.0,155.5 144.7,140.5 147.5,125.5 150.2,110.5 153.1,95.5 156.0,80.5" stroke="#ff8000" stroke-width="1"/>
<polyline points="84.4,365.5 88.5,350.5 93.6,335.5 100.8,320.5 108.0,305.5 114.0,290.5 117.2,275.5 119.6,260.5 122.1,245.5 125.5,230.5 130.0,215.5 134.5,200.5 138.4,185.5 140.7,170.5 141.4,155.5 142.3,140.5 144.3,125.5 147.5,110.5 151.7,95.5 155.8,80.5" stroke="#ff8000" stroke-width="1"/>
<polyline points="78.7,365.5 80.8,350.5 83.1,335.5 85.8,320.5 89.2,305.5 92.8,290.5 96.2,275.5 100.0,260.5 103.8,245.5 107.3,230.5 110.8,215.5 114.2,200.5 117.5,185.5 120.2,170.5 122.6,155.5 125.1,140.5 127.8,125.5 130.5,110.5 133.4,95.5 136.3,80.5" stroke="#ff8000" stroke-width="1"/>
<polyline points="95.4,365.5 104.8,350.5 114.3,335.5 125.2,320.5 136.4,305.5 147.6,290.5 154.9,275.5 162.2,260.5 168.6,245.5 174.5,230.5 180.3,215.5 185.3,200.5 190.1,185.5 194.9,170.5 198.4,155.5 202.0,140.5 205.7,125.5 208.9,110.5 212.3,95.5 215.8,80.5" stroke="#ff8000" stroke-width="1"/>
<polyline points="94.6,365.5 101.4,350.5 108.5,335.5 118.2,320.5 131.2,305.5 144.3,290.5 153.0,275.5 160.4,260.5 166.0,245.5 170.1,230.5 173.8,215.5 176.9,200.5 180.3,185.5 183.8,170.5 186.1,155.5 188.1,140.5 190.0,125.5 191.3,110.5 193.2,95.5 196.2,80.5" stroke="#ff8000" stroke-width="1"/>
<polyline points="83.7,365.5 87.6,350.5 91.6,335.5 96.3,320.5 102.5,305.5 109.0,290.5 114.3,275.5 119.7,260.5 124.5,245.5 129.0,230.5 133.3,215.5 137.4,200.5 141.7,185.5 146.0,170.5 149.7,155.5 153.5,140.5 157.0,125.5 159.9,110.5 162.4,95.5 164.6,80.5" stroke="#ff8000" stroke-width="1"/>
<polyline points="86.4,365.5 92.8,350.5 100.0,335.5 108.2,320.5 115.8,305.5 123.4,290.5 128.7,275.5 134.1,260.5 139.0,245.5 143.7,230.5 148.3,215.5 152.7,200.5 157.3,185.5 161.9,170.5 166.0,155.5 170.4,140.5 175.2,125.5 179.9,110.5 184.7,95.5 189.6,80.5" stroke="#ff8000" stroke-width="1"/>
<polyline points="84.0,365.5 88.3,350.5 92.2,335.5 96.0,320.5 100.9,305.5 106.2,290.5 110.4,275.5 115.0,260.5 119.5,245.5 123.9,230.5 128.3,215.5 132.5,200.5 136.7,185.5 140.6,170.5 144.0,155.5 147.4,140.5 151.1,125.5 154.8,110.5 158.4,95.5 162.1,80.5" stroke="#ff8000" stroke-width="1"/>
<polyline points="81.1,365.5 84.7,350.5 87.2,335.5 89.0,320.5 91.3,305.5 94.2,290.5 97.0,275.5 100.2,260.5 102.9,245.5 105.2,230.5 107.1,215.5 109.0,200.5 111.4,185.5 113.8,170.5 116.2,155.5 118.6,140.5 120.6,125.5 121.7,110.5 122.1,95.5 122.1,80.5" stroke="#ff8000" stroke-width="1"/>
<polyline points="87.2,365.5 92.9,350.5 98.6,335.5 104.6,320.5 110.2,305.5 115.6,290.5 119.1,275.5 122.9,260.5 126.4,245.5 129.8,230.5 133.2,215.5 136.2,200.5 139.0,185.5 141.1,170.5 142.3,155.5 143.4,140.5 144.4,125.5 145.3,110.5 146.4,95.5 147.6,80.5" stroke="#ff8000" stroke-width="1"/>
<polyline points="87.1,365.5 93.3,350.5 99.9,335.5 106.8,320.5 113.3,305.5 119.9,290.5 124.8,275.5 130.2,260.5 135.5,245.5 140.5,230.5 145.3,215.5 149.4,200.5 153.4,185.5 157.4,170.5 160.9,155.5 164.8,140.5 168.7,125.5 171.9,110.5 174.7,95.5 177.1,80.5" stroke="#ff8000" stroke-width="1"/>
<polyline points="92.8,365.5 100.6,350.5 108.8,335.5 118.6,320.5 128.6,305.5 138.2,290.5 144.0,275.5 149.4,260.5 153.8,245.5 157.6,230.5 161.4,215.5 164.9,200.5 168.6,185.5 172.4,170.5 175.5,155.5 178.6,140.5 181.8,125.5 184.3,110.5 186.5,95.5 188.4,80.5" stroke="#ff8000" stroke-width="1"/>
<polyline points="92.8,365.5 101.3,350.5 110.8,335.5 121.7,320.5 131.4,305.5 140.7,290.5 146.5,275.5 152.3,260.5 157.5,245.5 162.0,230.5 166.1,215.5 169.2,200.5 172.3,185.5 175.6,170.5 178.7,155.5 182.6,140.5 187.1,125.5 191.3,110.5 195.1,95.5 198.5,80.5" stroke="#ff8000" stroke-width="1"/>
<polyline points="94.5,365.5 102.9,350.5 111.8,335.5 122.5,320.5 134.1,305.5 145.7,290.5 153.2,275.5 160.1,260.5 165.8,245.5 170.8,230.5 176.0,215.5 181.0,200.5 186.2,185.5 191.4,170.5 194.9,155.5 197.9,140.5 200.4,125.5 202.1,110.5 204.0,95.5 206.4,80.5" stroke="#ff8000" stroke-width="1"/>
<polyline points="86.1,365.5 91.4,350.5 97.4,335.5 104.5,320.5 111.1,305.5 117.3,290.5 121.4,275.5 125.9,260.5 130.6,245.5 135.7,230.5 141.2,215.5 146.1,200.5 150.5,185.5 154.1,170.5 156.6,155.5 159.2,140.5 162.4,125.5 165.8,110.5 169.5,95.5 173.1,80.5" stroke="#ff8000" stroke-width="1"/>
<polyline points="80.6,365.5 84.3,350.5 87.9,335.5 91.0,320.5 93.6,305.5 96.3,290.5 98.7,275.5 101.9,260.5 105.7,245.5 110.0,230.5 114.9,215.5 120.0,200.5 124.9,185.5 128.8,170.5 131.6,155.5 133.6,140.5 135.0,125.5 135.8,110.5 136.6,95.5 137.8,80.5" stroke="#ff8000" stroke-width="1"/>
<polyline points="93.2,365.5 101.9,350.5 109.9,335.5 118.8,320.5 129.5,305.5 141.1,290.5 149.2,275.5 156.6,260.5 162.4,245.5 167.0,230.5 171.6,215.5 176.4,200.5 182.3,185.5 189.1,170.5 194.9,155.5 200.3,140.5 204.6,125.5 207.6,110.5 210.3,95.5 213.5,80.5" stroke="#ff8000" stroke-width="1"/>
<polyline points="90.6,365.5 97.9,350.5 105.8,335.5 115.2,320.5 125.1,305.5 135.0,290.5 141.5,275.5 147.9,260.5 153.5,245.5 158.8,230.5 164.4,215.5 169.8,200.5 175.6,185.5 181.6,170.5 186.7,155.5 191.7,140.5 196.4,125.5 200.2,110.5 203.7,95.5 206.9,80.5" stroke="#ff8000" stroke-width="1"/>
<polyline points="84.6,365.5 88.6,350.5 92.8,335.5 97.9,320.5 104.3,305.5 110.6,290.5 115.0,275.5 119.4,260.5 123.7,245.5 128.2,230.5 133.2,215.5 138.1,200.5 142.8,185.5 146.6,170.5 149.1,155.5 151.2,140.5 153.4,125.5 155.7,110.5 158.2,95.5 160.9,80.5" stroke="#ff8000" stroke-width="1"/>
<polyline points="87.5,365.5 94.3,350.5 101.5,335.5 109.3,320.5 116.6,305.5 124.2,290.5 129.8,275.5 135.9,260.5 141.6,245.5 146.9,230.5 151.7,215.5 155.6,200.5 159.0,185.5 161.7,170.5 163.4,155.5 165.5,140.5 168.2,125.5 171.1,110.5 174.6,95.5 178.4,80.5" stroke="#ff8000" stroke-width="1"/>
<polyline points="85.6,365.5 90.7,350.5 95.9,335.5 102.5,320.5 110.2,305.5 117.9,290.5 123.0,275.5 127.8,260.5 132.0,245.5 136.6,230.5 142.3,215.5 148.8,200.5 155.9,185.5 162.8,170.5 167.9,155.5 171.9,140.5 174.8,125.5 176.8,110.5 179.1,95.5 182.2,80.5" stroke="#ff8000" stroke-width="1"/>
<polyline points="87.3,365.5 93.8,350.5 100.0,335.5 105.9,320.5 111.6,305.5 117.5,290.5 121.7,275.5 126.8,260.5 132.3,245.5 138.2,230.5 144.3,215.5 150.0,200.5 155.1,185.5 159.6,170.5 162.8,155.5 166.0,140.5 169.6,125.5 173.4,110.5 177.6,95.5 182.2,80.5" stroke="#ff8000" stroke-width="1"/>
<polyline points="90.7,365.5 99.0,350.5 107.1,335.5 115.5,320.5 122.6,305.5 129.2,290.5 132.9,275.5 136.7,260.5 140.0,245.5 143.2,230.5 146.5,215.5 149.4,200.5 152.4,185.5 155.2,170.5 157.1,155.5 159.3,140.5 161.7,125.5 164.0,110.5 166.4,95.5 168.9,80.5" stroke="#ff8000" stroke-width="1"/>
<polyline points="85.2,365.5 91.4,350.5 97.5,335.5 102.9,320.5 106.8,305.5 111.0,290.5 114.3,275.5 118.1,260.5 121.6,245.5 124.5,230.5 126.9,215.5 129.0,200.5 131.5,185.5 134.4,170.5 137.7,155.5 141.4,140.5 145.1,125.5 147.9,110.5 149.9,95.5 151.5,80.5" stroke="#ff8000" stroke-width="1"/>
<polyline points="92.8,365.5 101.0,350.5 110.0,335.5 120.4,320.5 130.1,305.5 139.2,290.5 144.6,275.5 150.0,260.5 154.9,245.5 159.6,230.5 164.2,215.5 168.2,200.5 172.0,185.5 175.5,170.5 178.1,155.5 181.1,140.5 184.5,125.5 187.8,110.5 191.2,95.5 194.3,80.5" stroke="#ff8000" stroke-width="1"/>
<polyline points="78.9,365.5 81.1,350.5 83.0,335.5 84.4,320.5 86.2,305.5 88.1,290.5 90.4,275.5 93.3,260.5 96.5,245.5 99.9,230.5 103.2,215.5 106.4,200.5 109.2,185.5 111.3,170.5 112.9,155.5 114.4,140.5 116.0,125.5 117.7,110.5 119.8,95.5 121.9,80.5" stroke="#ff8000" stroke-width="1"/>
<polyline points="83.5,365.5 86.8,350.5 91.3,335.5 96.9,320.5 102.4,305.5 107.4,290.5 111.0,275.5 114.8,260.5 118.9,245.5 123.3,230.5 127.9,215.5 132.0,200.5 135.4,185.5 137.6,170.5 138.8,155.5 139.8,140.5 141.1,125.5 142.7,110.5 144.6,95.5 146.5,80.5" stroke="#ff8000" stroke-width="1"/>
<polyline points="88.0,365.5 93.7,350.5 99.3,335.5 105.9,320.5 114.2,305.5 123.2,290.5 130.3,275.5 137.7,260.5 144.7,245.5 151.0,230.5 156.6,215.5 161.0,200.5 164.7,185.5 167.6,170.5 169.3,155.5 171.2,140.5 173.8,125.5 176.9,110.5 181.1,95.5 186.3,80.5" stroke="#ff8000" stroke-width="1"/>
<polyline points="92.3,365.5 100.9,350.5 108.5,335.5 116.3,320.5 124.7,305.5 133.4,290.5 139.2,275.5 145.3,260.5 151.0,245.5 156.8,230.5 163.0,215.5 169.3,200.5 175.8,185.5 182.2,170.5 186.9,155.5 190.8,140.5 193.7,125.5 195.2,110.5 196.2,95.5 197.1,80.5" stroke="#ff8000" stroke-width="1"/>
<polyline points="95.1,365.5 105.5,350.5 116.5,335.5 128.3,320.5 138.4,305.5 148.1,290.5 153.8,275.5 159.6,260.5 164.9,245.5 170.1,230.5 175.9,215.5 181.6,200.5 187.8,185.5 194.4,170.5 199.8,155.5 205.0,140.5 209.5,125.5 212.8,110.5 215.3,95.5 217.4,80.5" stroke="#ff8000" stroke-width="1"/>
<polyline points="83.9,365.5 88.1,350.5 93.1,335.5 98.8,320.5 104.6,305.5 110.4,290.5 114.7,275.5 119.4,260.5 124.0,245.5 128.7,230.5 133.8,215.5 138.7,200.5 143.7,185.5 148.1,170.5 151.6,155.5 154.8,140.5 157.5,125.5 159.8,110.5 161.8,95.5 163.9,80.5" stroke="#ff8000" stroke-width="1"/>
<polyline points="89.4,365.5 95.9,350.5 103.2,335.5 111.9,320.5 120.5,305.5 128.8,290.5 134.3,275.5 139.6,260.5 144.2,245.5 148.2,230.5 151.9,215.5 155.0,200.5 157.9,185.5 160.8,170.5 163.1,155.5 166.0,140.5 169.3,125.5 172.7,110.5 176.4,95.5 180.0,80.5" stroke="#ff8000" stroke-width="1"/>
<polyline points="84.7,365.5 88.9,350.5 93.2,335.5 97.7,320.5 102.5,305.5 107.3,290.5 111.2,275.5 115.7,260.5 120.4,245.5 124.9,230.5 129.1,215.5 132.5,200.5 135.2,185.5 136.9,170.5 138.0,155.5 139.1,140.5 140.7,125.5 142.4,110.5 144.1,95.5 145.6,80.5" stroke="#ff8000" stroke-width="1"/>
<polyline points="88.2,365.5 94.5,350.5 102.0,335.5 111.3,320.5 119.3,305.5 125.6,290.5 128.7,275.5 132.1,260.5 136.3,245.5 141.5,230.5 147.0,215.5 151.5,200.5 154.5,185.5 156.4,170.5 157.6,155.5 160.0,140.5 163.9,125.5 168.0,110.5 171.7,95.5 174.1,80.5" stroke="#ff8000" stroke-width="1"/>
<polyline points="92.8,365.5 101.3,350.5 111.2,335.5 123.3,320.5 134.9,305.5 145.7,290.5 152.0,275.5 157.8,260.5 162.7,245.5 167.7,230.5 173.3,215.5 178.8,200.5 184.5,185.5 189.9,170.5 193.6,155.5 197.1,140.5 200.7,125.5 204.3,110.5 208.7,95.5 214.0,80.5" stroke="#ff8000" stroke-width="1"/>
<polyline points="83.3,365.5 87.8,350.5 91.7,335.5 94.4,320.5 96.7,305.5 99.9,290.5 103.3,275.5 107.4,260.5 110.8,245.5 112.8,230.5 113.6,215.5 114.0,200.5 114.9,185.5 116.5,170.5 118.6,155.5 120.6,140.5 121.6,125.5 121.6,110.5 121.6,95.5 121.6,80.5" stroke="#ff8000" stroke-width="1"/>
<polyline points="79.1,365.5 81.0,350.5 82.4,335.5 83.7,320.5 86.4,305.5 89.6,290.5 93.0,275.5 97.1,260.5 101.4,245.5 105.8,230.5 110.4,215.5 114.9,200.5 119.2,185.5 122.7,170.5 125.6,155.5 128.0,140.5 130.1,125.5 131.8,110.5 133.3,95.5 134.6,80.5" stroke="#ff8000" stroke-width="1"/>
<polyline points="94.2,365.5 102.6,350.5 110.9,335.5 120.1,320.5 129.6,305.5 139.1,290.5 145.3,275.5 151.6,260.5 157.3,245.5 162.4,230.5 167.2,215.5 171.1,200.5 174.4,185.5 177.0,170.5 178.2,155.5 179.3,140.5 180.4,125.5 181.3,110.5 182.6,95.5 184.4,80.5" stroke="#ff8000" stroke-width="1"/>
<polyline points="98.4,365.5 115.8,350.5 129.2,335.5 137.5,320.5 144.4,305.5 148.6,290.5 156.8,275.5 167.3,260.5 175.9,245.5 179.3,230.5 183.3,215.5 185.2,200.5 190.4,185.5 192.6,170.5 201.8,155.5 206.1,140.5 211.2,125.5 218.6,110.5 226.1,95.5 230.7,80.5" stroke="#ff8000" stroke-width="1"/>
<polyline points="93.5,365.5 117.7,350.5 138.0,335.5 152.9,320.5 157.8,305.5 159.7,290.5 167.5,275.5 171.6,260.5 171.6,245.5 177.4,230.5 178.4,215.5 179.5,200.5 182.9,185.5 191.3,170.5 205.6,155.5 210.5,140.5 215.9,125.5 223.0,110.5 231.7,95.5 236.0,80.5" stroke="#ff8000" stroke-width="1"/>
<polyline points="93.5,365.5 111.4,350.5 126.7,335.5 135.6,320.5 142.9,305.5 149.2,290.5 154.9,275.5 162.3,260.5 172.1,245.5 174.6,230.5 177.7,215.5 182.2,200.5 185.7,185.5 192.4,170.5 204.7,155.5 209.1,140.5 219.9,125.5 226.5,110.5 233.3,95.5 238.0,80.5" stroke="#ff8000" stroke-width="1"/>
<polyline points="89.8,365.5 116.6,350.5 136.9,335.5 156.0,320.5 162.6,305.5 167.1,290.5 171.2,275.5 171.2,260.5 173.0,245.5 175.9,230.5 181.3,215.5 182.5,200.5 185.2,185.5 191.1,170.5 204.1,155.5 211.3,140.5 220.3,125.5 227.7,110.5 233.3,95.5 240.0,80.5" stroke="#ff8000" stroke-width="1"/>
<polyline points="89.0,365.5 109.6,350.5 127.9,335.5 136.7,320.5 146.8,305.5 152.3,290.5 158.2,275.5 170.0,260.5 176.5,245.5 179.2,230.5 182.8,215.5 187.7,200.5 188.3,185.5 195.2,170.5 203.4,155.5 214.9,140.5 221.9,125.5 228.7,110.5 234.2,95.5 242.0,80.5" stroke="#ff8000" stroke-width="1"/>
<polyline points="90.4,365.5 109.5,350.5 126.7,335.5 137.5,320.5 142.7,305.5 153.1,290.5 158.4,275.5 165.9,260.5 177.1,245.5 177.1,230.5 182.6,215.5 185.4,200.5 191.4,185.5 196.7,170.5 205.9,155.5 215.6,140.5 224.4,125.5 229.7,110.5 238.3,95.5 243.0,80.5" stroke="#ff8000" stroke-width="1"/>
<polyline points="89.2,365.5 115.5,350.5 137.7,335.5 150.0,320.5 164.5,305.5 168.9,290.5 176.3,275.5 179.2,260.5 182.6,245.5 185.9,230.5 187.3,215.5 192.0,200.5 193.3,185.5 198.3,170.5 205.1,155.5 214.2,140.5 222.5,125.5 231.2,110.5 239.9,95.5 244.0,80.5" stroke="#ff8000" stroke-width="1"/>
<polyline points="90.5,365.5 109.9,350.5 124.5,335.5 138.4,320.5 146.7,305.5 154.1,290.5 158.3,275.5 168.6,260.5 175.9,245.5 180.0,230.5 190.6,215.5 196.2,200.5 205.1,185.5 211.3,170.5 216.2,155.5 223.0,140.5 231.6,125.5 238.9,110.5 244.2,95.5 254.0,80.5" stroke="#ff8000" stroke-width="1"/>
<polyline points="97.5,365.5 123.4,350.5 143.4,335.5 158.5,320.5 166.2,305.5 174.7,290.5 190.8,275.5 206.3,260.5 223.0,245.5 229.0,230.5 231.4,215.5 234.9,200.5 237.3,185.5 241.1,170.5 246.1,155.5 246.1,140.5 248.5,125.5 252.2,110.5 254.9,95.5 256.0,80.5" stroke="#ff8000" stroke-width="1"/>
<polyline points="94.1,365.5 122.7,350.5 146.2,335.5 160.6,320.5 174.5,305.5 180.4,290.5 192.8,275.5 206.9,260.5 217.5,245.5 227.9,230.5 233.8,215.5 237.7,200.5 244.8,185.5 246.5,170.5 249.0,155.5 250.1,140.5 252.2,125.5 252.5,110.5 256.4,95.5 258.5,80.5" stroke="#ff8000" stroke-width="1"/>
<polyline points="98.5,365.5 127.1,350.5 148.7,335.5 166.4,320.5 177.8,305.5 187.3,290.5 196.0,275.5 207.7,260.5 218.4,245.5 226.1,230.5 229.8,215.5 239.8,200.5 242.3,185.5 244.8,170.5 249.8,155.5 250.4,140.5 253.2,125.5 256.5,110.5 258.6,95.5 260.5,80.5" stroke="#ff8000" stroke-width="1"/>
<polyline points="89.2,365.5 137.1,350.5 174.4,335.5 202.4,320.5 220.8,305.5 234.5,290.5 234.5,275.5 235.7,260.5 237.3,245.5 243.5,230.5 245.4,215.5 253.1,200.5 256.8,185.5 257.6,170.5 259.2,155.5 261.6,140.5 263.8,125.5 265.4,110.5 269.3,95.5 271.0,80.5" stroke="#ff8000" stroke-width="1"/>
<polyline points="92.5,365.5 135.8,350.5 170.6,335.5 197.7,320.5 212.7,305.5 220.3,290.5 225.3,275.5 233.6,260.5 241.0,245.5 243.5,230.5 249.1,215.5 253.7,200.5 255.5,185.5 258.6,170.5 260.4,155.5 264.4,140.5 265.0,125.5 270.0,110.5 271.0,95.5 273.0,80.5" stroke="#ff8000" stroke-width="1"/>
<polyline points="98.8,365.5 139.9,350.5 174.2,335.5 195.4,320.5 210.3,305.5 220.7,290.5 221.2,275.5 229.2,260.5 229.4,245.5 237.4,230.5 244.7,215.5 250.9,200.5 254.1,185.5 259.4,170.5 264.3,155.5 268.8,140.5 272.4,125.5 273.8,110.5 274.5,95.5 278.0,80.5" stroke="#ff8000" stroke-width="1"/>
<polyline points="95.8,365.5 134.5,350.5 167.4,335.5 190.4,320.5 200.7,305.5 211.6,290.5 221.3,275.5 231.1,260.5 239.4,245.5 247.2,230.5 251.7,215.5 253.6,200.5 255.2,185.5 262.2,170.5 264.6,155.5 267.6,140.5 273.6,125.5 275.0,110.5 277.5,95.5 279.5,80.5" stroke="#ff8000" stroke-width="1"/>
<polyline points="98.9,365.5 140.5,350.5 175.5,335.5 199.0,320.5 214.9,305.5 220.8,290.5 222.3,275.5 224.8,260.5 227.7,245.5 231.3,230.5 241.7,215.5 251.8,200.5 256.4,185.5 260.9,170.5 267.4,155.5 271.4,140.5 271.4,125.5 273.9,110.5 276.3,95.5 281.0,80.5" stroke="#ff8000" stroke-width="1"/>
<polyline points="88.9,365.5 126.4,350.5 158.6,335.5 180.0,320.5 191.2,305.5 203.6,290.5 211.8,275.5 218.3,260.5 229.2,245.5 234.7,230.5 245.0,215.5 253.2,200.5 261.3,185.5 266.8,170.5 269.3,155.5 273.1,140.5 278.2,125.5 278.2,110.5 278.5,95.5 282.0,80.5" stroke="#ff8000" stroke-width="1"/>
<polyline points="94.8,365.5 120.2,350.5 143.0,335.5 156.1,320.5 161.7,305.5 169.4,290.5 182.8,275.5 192.0,260.5 207.1,245.5 217.7,230.5 224.7,215.5 235.6,200.5 244.5,185.5 255.1,170.5 259.9,155.5 271.4,140.5 275.8,125.5 286.0,110.5 290.9,95.5 297.0,80.5" stroke="#ff8000" stroke-width="1"/>
<polyline points="94.4,365.5 141.1,350.5 177.2,335.5 203.8,320.5 217.4,305.5 227.9,290.5 232.8,275.5 240.8,260.5 250.3,245.5 257.9,230.5 263.5,215.5 271.7,200.5 276.9,185.5 281.1,170.5 282.9,155.5 285.8,140.5 288.6,125.5 293.2,110.5 297.4,95.5 303.0,80.5" stroke="#ff8000" stroke-width="1"/>
<polyline points="88.2,365.5 141.6,350.5 185.4,335.5 214.6,320.5 235.3,305.5 244.0,290.5 248.6,275.5 254.1,260.5 259.5,245.5 262.7,230.5 265.8,215.5 269.1,200.5 273.6,185.5 278.3,170.5 283.5,155.5 288.4,140.5 294.3,125.5 298.9,110.5 299.6,95.5 305.0,80.5" stroke="#ff8000" stroke-width="1"/>
<polyline points="88.2,365.5 122.9,350.5 153.1,335.5 172.6,320.5 182.4,305.5 188.3,290.5 195.4,275.5 200.8,260.5 207.4,245.5 217.5,230.5 229.9,215.5 241.2,200.5 250.7,185.5 258.3,170.5 262.4,155.5 271.1,140.5 283.1,125.5 290.4,110.5 299.7,95.5 309.0,80.5" stroke="#ff8000" stroke-width="1"/>
<polyline points="91.4,365.5 125.1,350.5 150.9,335.5 171.2,320.5 185.5,305.5 191.6,290.5 200.2,275.5 208.5,260.5 212.3,245.5 221.5,230.5 228.8,215.5 236.9,200.5 243.7,185.5 255.2,170.5 267.5,155.5 276.5,140.5 283.8,125.5 293.4,110.5 302.3,95.5 310.5,80.5" stroke="#ff8000" stroke-width="1"/>
<polyline points="91.7,365.5 123.1,350.5 146.6,335.5 167.8,320.5 177.0,305.5 188.5,290.5 196.1,275.5 203.5,260.5 215.8,245.5 222.7,230.5 233.7,215.5 241.6,200.5 250.3,185.5 255.9,170.5 264.9,155.5 277.8,140.5 283.5,125.5 292.7,110.5 300.7,95.5 312.0,80.5" stroke="#ff8000" stroke-width="1"/>
<polyline points="89.8,365.5 119.3,350.5 144.2,335.5 160.7,320.5 173.1,305.5 176.6,290.5 188.2,275.5 196.4,260.5 207.6,245.5 213.7,230.5 225.0,215.5 231.3,200.5 242.3,185.5 255.1,170.5 261.9,155.5 272.5,140.5 286.8,125.5 298.0,110.5 307.4,95.5 322.0,80.5" stroke="#ff8000" stroke-width="1"/>
<polyline points="90.1,365.5 115.3,350.5 136.6,335.5 149.7,320.5 158.8,305.5 163.6,290.5 172.8,275.5 186.3,260.5 197.1,245.5 209.2,230.5 218.8,215.5 230.8,200.5 247.6,185.5 256.8,170.5 269.0,155.5 280.5,140.5 295.2,125.5 309.8,110.5 319.0,95.5 333.5,80.5" stroke="#ff8000" stroke-width="1"/>
<polyline points="93.5,365.5 154.6,350.5 202.6,335.5 241.1,320.5 258.5,305.5 271.2,290.5 279.3,275.5 287.8,260.5 293.4,245.5 299.5,230.5 304.3,215.5 309.0,200.5 310.1,185.5 317.7,170.5 318.0,155.5 321.8,140.5 324.6,125.5 327.5,110.5 334.6,95.5 335.6,80.5" stroke="#ff8000" stroke-width="1"/>
<polyline points="92.2,365.5 146.8,350.5 190.5,335.5 221.0,320.5 237.3,305.5 249.1,290.5 269.0,275.5 284.4,260.5 299.9,245.5 312.5,230.5 322.3,215.5 325.8,200.5 332.2,185.5 335.7,170.5 337.5,155.5 340.3,140.5 340.6,125.5 348.1,110.5 350.7,95.5 357.0,80.5" stroke="#ff8000" stroke-width="1"/>
<polyline points="91.7,365.5 108.4,350.5 123.2,335.5 130.9,320.5 137.1,305.5 142.5,290.5 148.7,275.5 160.6,260.5 175.5,245.5 192.8,230.5 210.6,215.5 229.4,200.5 249.6,185.5 265.4,170.5 285.9,155.5 307.5,140.5 326.2,125.5 341.6,110.5 363.7,95.5 379.0,80.5" stroke="#ff8000" stroke-width="1"/>
<polyline points="96.1,365.5 107.9,350.5 118.3,335.5 126.4,320.5 127.6,305.5 135.1,290.5 146.0,275.5 157.5,260.5 182.4,245.5 200.6,230.5 224.6,215.5 244.0,200.5 265.2,185.5 287.4,170.5 306.0,155.5 327.6,140.5 351.0,125.5 375.6,110.5 394.3,95.5 417.0,80.5" stroke="#ff8000" stroke-width="1"/>
<polyline points="92.0,365.5 110.4,350.5 122.9,335.5 134.9,320.5 141.3,305.5 153.5,290.5 169.8,275.5 185.1,260.5 207.0,245.5 226.3,230.5 249.3,215.5 269.7,200.5 289.4,185.5 309.0,170.5 326.0,155.5 345.5,140.5 367.1,125.5 387.9,110.5 417.2,95.5 445.0,80.5" stroke="#ff8000" stroke-width="1"/>
<polyline points="93.1,365.5 112.8,350.5 127.4,335.5 141.2,320.5 147.5,305.5 158.4,290.5 183.3,275.5 202.7,260.5 230.9,245.5 257.3,230.5 283.1,215.5 307.5,200.5 326.5,185.5 345.6,170.5 373.6,155.5 397.9,140.5 420.3,125.5 443.6,110.5 454.1,95.5 470.0,80.5" stroke="#ff8000" stroke-width="1"/>
<polyline points="90.5,365.5 110.4,350.5 127.1,335.5 138.9,320.5 145.5,305.5 149.9,290.5 193.2,275.5 240.8,260.5 289.6,245.5 329.0,230.5 364.8,215.5 392.8,200.5 415.4,185.5 431.2,170.5 447.7,155.5 458.5,140.5 466.8,125.5 469.0,110.5 473.8,95.5 480.0,80.5" stroke="#ff8000" stroke-width="1"/>
<polyline points="94.7,365.5 116.5,350.5 134.4,335.5 146.6,320.5 159.0,305.5 165.6,290.5 219.8,275.5 273.5,260.5 326.7,245.5 362.2,230.5 395.4,215.5 421.2,200.5 439.9,185.5 449.8,170.5 456.4,155.5 461.7,140.5 467.5,125.5 474.7,110.5 475.4,95.5 481.0,80.5" stroke="#ff8000" stroke-width="1"/>
<polyline points="88.1,365.5 118.8,350.5 144.7,335.5 159.9,320.5 176.8,305.5 188.3,290.5 247.8,275.5 310.7,260.5 358.1,245.5 403.2,230.5 429.8,215.5 441.8,200.5 452.0,185.5 458.4,170.5 462.2,155.5 466.3,140.5 473.5,125.5 476.2,110.5 478.2,95.5 482.0,80.5" stroke="#ff8000" stroke-width="1"/>
<polyline points="96.9,365.5 113.2,350.5 137.8,335.5 166.9,320.5 210.1,305.5 261.5,290.5 314.5,275.5 357.5,260.5 407.3,245.5 445.2,230.5 475.6,215.5 489.2,200.5 496.9,185.5 501.7,170.5 505.4,155.5 509.8,140.5 514.4,125.5 519.2,110.5 521.9,95.5 523.6,80.5" stroke="#ff8000" stroke-width="1"/>
<polyline points="96.9,365.5 113.6,350.5 138.1,335.5 166.2,320.5 206.8,305.5 255.9,290.5 307.2,275.5 350.0,260.5 399.3,245.5 437.1,230.5 467.2,215.5 480.6,200.5 488.2,185.5 493.3,170.5 498.0,155.5 504.2,140.5 511.0,125.5 518.0,110.5 522.5,95.5 525.2,80.5" stroke="#ff8000" stroke-width="1"/>
<polyline points="96.9,365.5 113.9,350.5 139.5,335.5 170.0,320.5 213.3,305.5 264.5,290.5 316.9,275.5 359.3,260.5 408.4,245.5 445.9,230.5 476.4,215.5 490.3,200.5 498.3,185.5 503.1,170.5 506.7,155.5 510.8,140.5 515.2,125.5 519.9,110.5 522.6,95.5 524.4,80.5" stroke="#ff8000" stroke-width="1"/>
<polyline points="96.8,365.5 113.0,350.5 136.4,335.5 163.7,320.5 201.3,305.5 246.2,290.5 292.5,275.5 331.3,260.5 376.8,245.5 413.1,230.5 443.9,215.5 460.5,200.5 472.0,185.5 480.8,170.5 488.1,155.5 495.6,140.5 503.1,125.5 510.8,110.5 517.1,95.5 523.1,80.5" stroke="#ff8000" stroke-width="1"/>
<polyline points="96.8,365.5 113.2,350.5 136.8,335.5 164.5,320.5 203.3,305.5 249.7,290.5 297.6,275.5 337.3,260.5 383.5,245.5 419.7,230.5 450.0,215.5 465.5,200.5 476.0,185.5 484.2,170.5 491.4,155.5 499.4,140.5 507.6,125.5 516.0,110.5 522.4,95.5 528.0,80.5" stroke="#ff8000" stroke-width="1"/>
<polyline points="96.9,365.5 112.8,350.5 136.8,335.5 165.5,320.5 207.1,305.5 256.8,290.5 308.6,275.5 351.7,260.5 401.6,245.5 440.1,230.5 470.9,215.5 484.9,200.5 493.0,185.5 498.4,170.5 503.1,155.5 508.7,140.5 514.4,125.5 519.9,110.5 523.1,95.5 525.7,80.5" stroke="#ff8000" stroke-width="1"/>
<polyline points="96.8,365.5 114.0,350.5 137.7,335.5 164.9,320.5 205.0,305.5 254.0,290.5 305.3,275.5 347.8,260.5 396.8,245.5 434.4,230.5 464.8,215.5 479.2,200.5 488.4,185.5 495.3,170.5 501.9,155.5 509.7,140.5 518.0,125.5 526.1,110.5 531.7,95.5 535.7,80.5" stroke="#ff8000" stroke-width="1"/>
<polyline points="96.9,365.5 113.4,350.5 138.4,335.5 168.6,320.5 211.9,305.5 263.6,290.5 316.9,275.5 360.3,260.5 410.1,245.5 448.1,230.5 478.7,215.5 492.7,200.5 501.0,185.5 506.4,170.5 510.7,155.5 515.5,140.5 520.3,125.5 525.3,110.5 528.3,95.5 530.6,80.5" stroke="#ff8000" stroke-width="1"/>
<polyline points="96.9,365.5 114.8,350.5 140.3,335.5 169.4,320.5 210.6,305.5 260.6,290.5 313.2,275.5 356.9,260.5 407.2,245.5 445.4,230.5 475.6,215.5 488.9,200.5 496.5,185.5 502.1,170.5 507.7,155.5 514.8,140.5 522.3,125.5 529.4,110.5 533.6,95.5 536.1,80.5" stroke="#ff8000" stroke-width="1"/>
<polyline points="96.6,365.5 110.3,350.5 130.4,335.5 155.3,320.5 192.2,305.5 237.0,290.5 283.9,275.5 324.2,260.5 371.0,245.5 408.9,230.5 441.3,215.5 459.7,200.5 473.3,185.5 484.5,170.5 494.6,155.5 505.1,140.5 515.4,125.5 525.4,110.5 533.0,95.5 539.3,80.5" stroke="#ff8000" stroke-width="1"/>
<polyline points="96.7,365.5 112.2,350.5 134.5,335.5 161.6,320.5 199.6,305.5 244.9,290.5 291.5,275.5 330.7,260.5 376.5,245.5 413.5,230.5 445.5,215.5 463.3,200.5 476.1,185.5 486.2,170.5 495.0,155.5 504.2,140.5 513.8,125.5 523.8,110.5 532.1,95.5 539.5,80.5" stroke="#ff8000" stroke-width="1"/>
<polyline points="96.7,365.5 113.2,350.5 137.2,335.5 165.4,320.5 202.6,305.5 247.3,290.5 293.8,275.5 333.4,260.5 380.2,245.5 418.0,230.5 450.5,215.5 468.2,200.5 480.9,185.5 490.8,170.5 499.7,155.5 509.2,140.5 519.2,125.5 529.5,110.5 537.6,95.5 544.6,80.5" stroke="#ff8000" stroke-width="1"/>
<polyline points="96.7,365.5 113.0,350.5 134.9,335.5 160.8,320.5 200.2,305.5 248.7,290.5 299.2,275.5 340.7,260.5 388.2,245.5 425.6,230.5 457.7,215.5 475.8,200.5 489.6,185.5 500.8,170.5 509.9,155.5 518.2,140.5 525.9,125.5 534.0,110.5 540.8,95.5 547.4,80.5" stroke="#ff8000" stroke-width="1"/>
<polyline points="96.8,365.5 112.8,350.5 136.9,335.5 165.7,320.5 207.3,305.5 257.3,290.5 309.4,275.5 352.7,260.5 403.1,245.5 442.7,230.5 475.8,215.5 492.6,200.5 503.9,185.5 512.2,170.5 519.1,155.5 526.1,140.5 532.9,125.5 539.6,110.5 544.0,95.5 547.5,80.5" stroke="#ff8000" stroke-width="1"/>
<polyline points="97.0,365.5 115.0,350.5 142.0,335.5 174.0,320.5 220.0,305.5 275.0,290.5 332.0,275.5 378.0,260.5 431.0,245.5 471.0,230.5 503.0,215.5 517.0,200.5 525.0,185.5 530.0,170.5 534.0,155.5 538.5,140.5 543.0,125.5 547.5,110.5 549.7,95.5 551.0,80.5" stroke="#000" stroke-width="2"/>
<polyline points="115.0,365.5 184.0,350.5 249.0,335.5 306.0,320.5 357.0,305.5 393.0,290.5 419.0,275.5 439.0,260.5 459.0,245.5 473.0,230.5 484.0,215.5 494.5,200.5 506.0,185.5 518.0,170.5 525.0,155.5 530.5,140.5 536.0,125.5 540.5,110.5 543.6,95.5 544.8,80.5" stroke="#000" stroke-width="2"/>
<polyline points="121.0,365.5 195.0,350.5 262.0,335.5 318.0,320.5 364.0,305.5 397.0,290.5 422.0,275.5 443.0,260.5 470.0,245.5 492.5,230.5 504.5,215.5 516.5,200.5 525.0,185.5 534.0,170.5 542.5,155.5 548.0,140.5 553.0,125.5 556.5,110.5 558.5,95.5 560.0,80.5" stroke="#000" stroke-width="2"/>
<polyline points="127.0,365.5 206.0,350.5 275.0,335.5 329.0,320.5 372.0,305.5 400.0,290.5 424.0,275.5 444.0,260.5 468.0,245.5 490.5,230.5 505.5,215.5 523.0,200.5 539.5,185.5 554.0,170.5 564.5,155.5 572.0,140.5 579.5,125.5 586.0,110.5 591.0,95.5 594.0,80.5" stroke="#000" stroke-width="2"/>
<polyline points="118.0,365.5 150.0,350.5 208.0,335.5 281.0,320.5 340.0,305.5 388.0,290.5 430.0,275.5 460.0,260.5 488.0,245.5 512.0,230.5 533.0,215.5 547.0,200.5 556.0,185.5 564.0,170.5 572.0,155.5 579.0,140.5 586.0,125.5 592.0,110.5 596.0,95.5 601.0,80.5" stroke="#0000ff" stroke-width="2"/>
</g>
<g fill="none" stroke="#000" stroke-width="1" shape-rendering="crispEdges">
<rect x="65.5" y="65.5" width="550" height="310"/>
<path d="M128.5 375V370 M128.5 65V71"/>
<path d="M181.5 375V365 M181.5 65V76"/>
<path d="M234.5 375V370 M234.5 65V71"/>
<path d="M287.5 375V365 M287.5 65V76"/>
<path d="M340.5 375V370 M340.5 65V71"/>
<path d="M393.5 375V365 M393.5 65V76"/>
<path d="M446.5 375V370 M446.5 65V71"/>
<path d="M499.5 375V365 M499.5 65V76"/>
<path d="M552.5 375V370 M552.5 65V71"/>
<path d="M605.5 375V365 M605.5 65V76"/>
<path d="M605.5 75.5H615"/>
<path d="M65 336.5H71 M616 336.5H610"/>
<path d="M65 307.5H71 M616 307.5H610"/>
<path d="M65 278.5H71 M616 278.5H610"/>
<path d="M65 249.5H71 M616 249.5H610"/>
<path d="M65 220.5H76 M616 220.5H605"/>
<path d="M65 191.5H71 M616 191.5H610"/>
<path d="M65 162.5H71 M616 162.5H610"/>
<path d="M65 133.5H71 M616 133.5H610"/>
<path d="M65 104.5H71 M616 104.5H610"/>
<path d="M65 75.5H76 M616 75.5H605"/>
</g>
<g>
<text transform="translate(348.0,30.0) scale(1,0.840)" text-anchor="middle" font-size="16">T0966-D1</text>
<text transform="translate(333.9,420.0) scale(1,0.840)" text-anchor="middle" font-size="16">Percent of Residues (CA)</text>
<text class="d" transform="translate(65.5,395.0) scale(1,0.850)" text-anchor="middle" font-size="16">0</text>
<text class="d" transform="translate(180.8,395.0) scale(1,0.850)" text-anchor="middle" font-size="16">20</text>
<text class="d" transform="translate(286.8,395.0) scale(1,0.850)" text-anchor="middle" font-size="16">40</text>
<text class="d" transform="translate(392.5,395.0) scale(1,0.850)" text-anchor="middle" font-size="16">60</text>
<text class="d" transform="translate(498.7,395.0) scale(1,0.850)" text-anchor="middle" font-size="16">80</text>
<text class="d" transform="translate(609.6,395.0) scale(1,0.850)" text-anchor="middle" font-size="16">100</text>
<text class="d" transform="translate(55.0,374.9) rotate(-90) scale(1,0.850)" text-anchor="middle" font-size="16">0</text>
<text class="d" transform="translate(55.0,218.9) rotate(-90) scale(1,0.850)" text-anchor="middle" font-size="16">5</text>
<text class="d" transform="translate(55.0,64.5) rotate(-90) scale(1,0.850)" text-anchor="middle" font-size="16">10</text>
<text transform="translate(30.4,232.6) rotate(-90) scale(1,0.840)" text-anchor="middle" font-size="16">Distance Cutoff, A</text>
</g>
</svg>
</body></html>
